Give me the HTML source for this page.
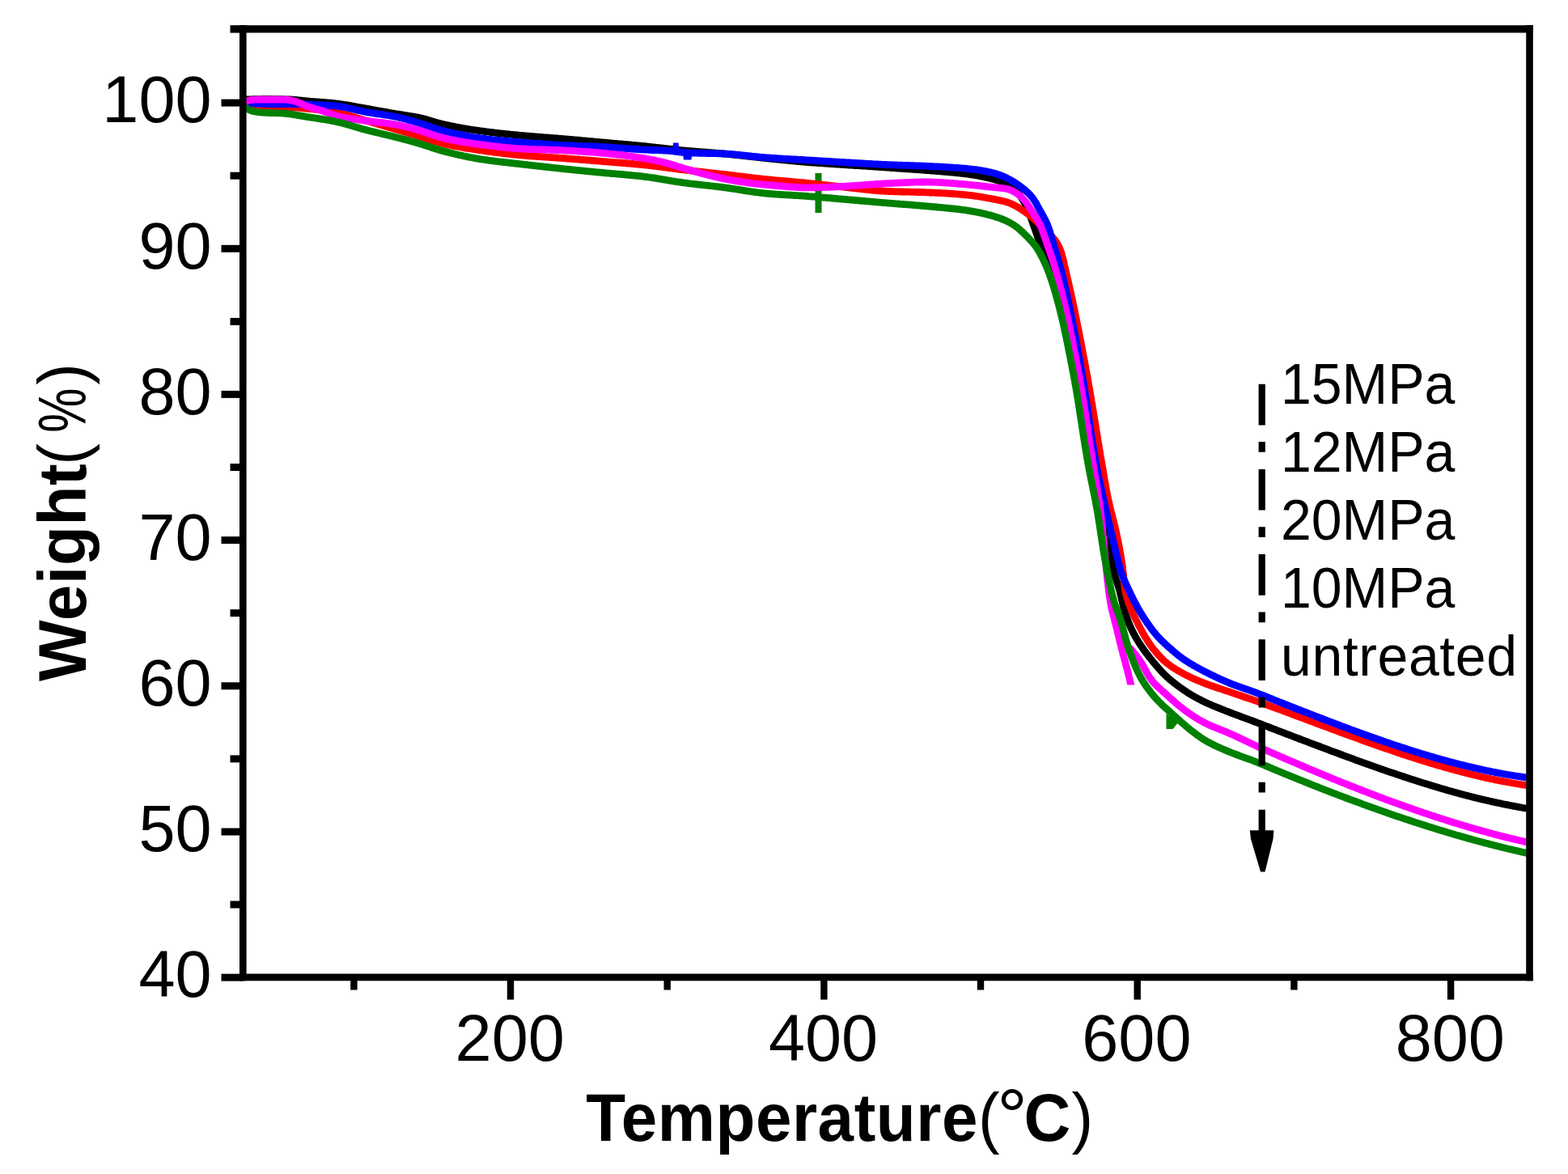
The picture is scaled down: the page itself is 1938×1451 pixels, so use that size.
<!DOCTYPE html>
<html><head><meta charset="utf-8"><title>TGA curves</title>
<style>
html,body{margin:0;padding:0;background:#fff;overflow:hidden;}
svg{display:block;}
.tk{font-family:"Liberation Sans",Arial,sans-serif;font-size:81px;fill:#000;}
.ttl{font-family:"Liberation Sans",Arial,sans-serif;font-size:80px;font-weight:bold;fill:#000;}
.ttn{font-family:"Liberation Sans",Arial,sans-serif;font-size:80px;font-weight:normal;fill:#000;}
.lg{font-family:"Liberation Sans",Arial,sans-serif;font-size:68px;fill:#000;}
</style></head>
<body>
<svg width="1938" height="1451" viewBox="0 0 1938 1451">
<rect width="1938" height="1451" fill="#fff"/>
<path d="M302.0,123.0L303.5,123.0L305.0,122.9L306.5,122.9L308.0,122.8L309.5,122.8L311.0,122.8L312.5,122.7L314.0,122.7L315.5,122.7L317.0,122.6L318.5,122.6L320.0,122.6L321.5,122.6L323.0,122.6L324.5,122.5L326.0,122.5L327.5,122.5L329.0,122.5L330.5,122.5L332.0,122.5L333.5,122.5L335.0,122.5L336.5,122.5L338.0,122.6L339.5,122.6L341.0,122.6L342.5,122.6L344.0,122.6L345.5,122.7L347.0,122.7L348.5,122.7L350.0,122.7L351.5,122.8L353.0,122.8L354.5,122.9L356.0,122.9L357.5,123.0L359.0,123.0L360.5,123.1L362.0,123.2L363.5,123.3L365.0,123.4L366.5,123.5L367.9,123.7L369.4,123.8L370.9,124.0L372.4,124.1L373.9,124.3L375.4,124.4L376.9,124.6L378.4,124.8L379.9,124.9L381.4,125.0L382.9,125.2L384.4,125.3L385.9,125.4L387.3,125.6L388.8,125.7L390.3,125.8L391.8,125.9L393.3,126.0L394.8,126.1L396.3,126.2L397.8,126.3L399.3,126.5L400.8,126.6L402.3,126.7L403.8,126.8L405.3,127.0L406.8,127.1L408.3,127.2L409.8,127.4L411.3,127.5L412.8,127.7L414.2,127.9L415.7,128.0L417.2,128.2L418.7,128.4L420.2,128.6L421.7,128.8L423.2,129.0L424.6,129.2L426.1,129.5L427.6,129.7L429.1,129.9L430.6,130.2L432.1,130.4L433.5,130.7L435.0,130.9L436.5,131.2L438.0,131.5L439.4,131.7L440.9,132.0L442.4,132.3L443.9,132.5L445.3,132.8L446.8,133.1L448.3,133.3L449.8,133.6L451.2,133.9L452.7,134.1L454.2,134.4L455.7,134.7L457.2,134.9L458.6,135.2L460.1,135.5L461.6,135.7L463.1,136.0L464.5,136.3L466.0,136.5L467.5,136.8L469.0,137.1L470.4,137.3L471.9,137.6L473.4,137.9L474.9,138.1L476.3,138.4L477.8,138.7L479.3,138.9L480.8,139.2L482.2,139.5L483.7,139.7L485.2,140.0L486.7,140.2L488.2,140.5L489.6,140.7L491.1,141.0L492.6,141.2L494.1,141.4L495.6,141.7L497.0,141.9L498.5,142.1L500.0,142.4L501.5,142.6L503.0,142.8L504.5,143.0L505.9,143.3L507.4,143.5L508.9,143.7L510.4,144.0L511.9,144.2L513.3,144.5L514.8,144.8L516.3,145.1L517.7,145.4L519.2,145.7L520.7,146.0L522.1,146.4L523.6,146.7L525.0,147.1L526.5,147.5L527.9,147.9L529.3,148.4L530.8,148.8L532.2,149.2L533.6,149.7L535.1,150.1L536.5,150.5L538.0,151.0L539.4,151.4L540.8,151.8L542.3,152.2L543.7,152.6L545.2,152.9L546.6,153.3L548.1,153.6L549.6,154.0L551.0,154.3L552.5,154.6L554.0,154.9L555.4,155.2L556.9,155.5L558.4,155.8L559.8,156.1L561.3,156.4L562.8,156.7L564.3,157.0L565.7,157.3L567.2,157.5L568.7,157.8L570.2,158.1L571.6,158.3L573.1,158.6L574.6,158.8L576.1,159.1L577.5,159.3L579.0,159.6L580.5,159.8L582.0,160.1L583.5,160.3L584.9,160.5L586.4,160.7L587.9,161.0L589.4,161.2L590.9,161.4L592.4,161.6L593.9,161.8L595.3,162.0L596.8,162.2L598.3,162.4L599.8,162.6L601.3,162.8L602.8,163.0L604.3,163.2L605.7,163.4L607.2,163.6L608.7,163.7L610.2,163.9L611.7,164.1L613.2,164.3L614.7,164.4L616.2,164.6L617.7,164.8L619.2,164.9L620.6,165.1L622.1,165.2L623.6,165.4L625.1,165.6L626.6,165.7L628.1,165.9L629.6,166.0L631.1,166.2L632.6,166.3L634.1,166.5L635.6,166.6L637.1,166.7L638.6,166.9L640.0,167.0L641.5,167.2L643.0,167.3L644.5,167.4L646.0,167.6L647.5,167.7L649.0,167.8L650.5,168.0L652.0,168.1L653.5,168.2L655.0,168.4L656.5,168.5L658.0,168.6L659.5,168.7L661.0,168.8L662.5,169.0L664.0,169.1L665.5,169.2L666.9,169.3L668.4,169.4L669.9,169.5L671.4,169.7L672.9,169.8L674.4,169.9L675.9,170.0L677.4,170.1L678.9,170.2L680.4,170.3L681.9,170.5L683.4,170.6L684.9,170.7L686.4,170.8L687.9,170.9L689.4,171.0L690.9,171.2L692.4,171.3L693.9,171.4L695.4,171.5L696.9,171.7L698.3,171.8L699.8,171.9L701.3,172.1L702.8,172.2L704.3,172.3L705.8,172.4L707.3,172.6L708.8,172.7L710.3,172.8L711.8,173.0L713.3,173.1L714.8,173.2L716.3,173.4L717.8,173.5L719.3,173.7L720.8,173.8L722.3,173.9L723.7,174.1L725.2,174.2L726.7,174.3L728.2,174.5L729.7,174.6L731.2,174.7L732.7,174.9L734.2,175.0L735.7,175.2L737.2,175.3L738.7,175.4L740.2,175.6L741.7,175.7L743.2,175.8L744.7,176.0L746.2,176.1L747.6,176.2L749.1,176.4L750.6,176.5L752.1,176.6L753.6,176.8L755.1,176.9L756.6,177.0L758.1,177.2L759.6,177.3L761.1,177.4L762.6,177.5L764.1,177.7L765.6,177.8L767.1,177.9L768.6,178.1L770.1,178.2L771.5,178.3L773.0,178.5L774.5,178.6L776.0,178.7L777.5,178.9L779.0,179.0L780.5,179.1L782.0,179.3L783.5,179.4L785.0,179.6L786.5,179.7L788.0,179.8L789.5,180.0L791.0,180.1L792.5,180.3L794.0,180.4L795.4,180.6L796.9,180.7L798.4,180.9L799.9,181.0L801.4,181.2L802.9,181.3L804.4,181.5L805.9,181.7L807.4,181.8L808.9,182.0L810.4,182.2L811.8,182.3L813.3,182.5L814.8,182.7L816.3,182.9L817.8,183.0L819.3,183.2L820.8,183.4L822.3,183.6L823.8,183.7L825.3,183.9L826.7,184.1L828.2,184.2L829.7,184.4L831.2,184.6L832.7,184.7L834.2,184.9L835.7,185.0L837.2,185.2L838.7,185.4L840.2,185.5L841.7,185.7L843.2,185.8L844.6,185.9L846.1,186.1L847.6,186.2L849.1,186.3L850.6,186.5L852.1,186.6L853.6,186.7L855.1,186.9L856.6,187.0L858.1,187.1L859.6,187.2L861.1,187.3L862.6,187.4L864.1,187.6L865.6,187.7L867.1,187.8L868.6,187.9L870.1,188.0L871.6,188.1L873.0,188.2L874.5,188.3L876.0,188.5L877.5,188.6L879.0,188.7L880.5,188.8L882.0,188.9L883.5,189.0L885.0,189.2L886.5,189.3L888.0,189.4L889.5,189.5L891.0,189.7L892.5,189.8L894.0,189.9L895.5,190.1L897.0,190.2L898.5,190.3L900.0,190.5L901.4,190.6L902.9,190.8L904.4,190.9L905.9,191.1L907.4,191.3L908.9,191.4L910.4,191.6L911.9,191.7L913.4,191.9L914.9,192.1L916.4,192.2L917.8,192.4L919.3,192.6L920.8,192.7L922.3,192.9L923.8,193.1L925.3,193.2L926.8,193.4L928.3,193.6L929.8,193.7L931.3,193.9L932.8,194.1L934.2,194.2L935.7,194.4L937.2,194.6L938.7,194.7L940.2,194.9L941.7,195.0L943.2,195.2L944.7,195.4L946.2,195.5L947.7,195.7L949.2,195.8L950.6,196.0L952.1,196.1L953.6,196.3L955.1,196.4L956.6,196.6L958.1,196.7L959.6,196.9L961.1,197.0L962.6,197.2L964.1,197.3L965.6,197.5L967.1,197.6L968.6,197.8L970.0,197.9L971.5,198.1L973.0,198.2L974.5,198.4L976.0,198.5L977.5,198.7L979.0,198.8L980.5,199.0L982.0,199.1L983.5,199.2L985.0,199.4L986.5,199.5L988.0,199.6L989.5,199.8L991.0,199.9L992.4,200.0L993.9,200.2L995.4,200.3L996.9,200.4L998.4,200.5L999.9,200.6L1001.4,200.8L1002.9,200.9L1004.4,201.0L1005.9,201.1L1007.4,201.2L1008.9,201.3L1010.4,201.4L1011.9,201.5L1013.4,201.6L1014.9,201.7L1016.4,201.8L1017.9,201.9L1019.4,202.0L1020.9,202.1L1022.4,202.2L1023.9,202.3L1025.4,202.4L1026.9,202.5L1028.4,202.6L1029.8,202.7L1031.3,202.8L1032.8,202.9L1034.3,203.0L1035.8,203.1L1037.3,203.2L1038.8,203.3L1040.3,203.4L1041.8,203.5L1043.3,203.6L1044.8,203.7L1046.3,203.8L1047.8,203.9L1049.3,204.0L1050.8,204.1L1052.3,204.2L1053.8,204.3L1055.3,204.4L1056.8,204.5L1058.3,204.6L1059.8,204.7L1061.3,204.7L1062.8,204.8L1064.3,204.9L1065.8,205.0L1067.3,205.1L1068.8,205.2L1070.3,205.3L1071.8,205.4L1073.3,205.5L1074.7,205.6L1076.2,205.7L1077.7,205.8L1079.2,205.9L1080.7,206.0L1082.2,206.1L1083.7,206.2L1085.2,206.3L1086.7,206.4L1088.2,206.5L1089.7,206.6L1091.2,206.7L1092.7,206.8L1094.2,206.9L1095.7,207.0L1097.2,207.1L1098.7,207.2L1100.2,207.4L1101.7,207.5L1103.2,207.6L1104.7,207.7L1106.2,207.8L1107.7,207.9L1109.2,208.0L1110.7,208.1L1112.2,208.2L1113.7,208.3L1115.2,208.4L1116.6,208.5L1118.1,208.6L1119.6,208.7L1121.1,208.8L1122.6,208.9L1124.1,209.0L1125.6,209.1L1127.1,209.2L1128.6,209.3L1130.1,209.4L1131.6,209.5L1133.1,209.6L1134.6,209.7L1136.1,209.8L1137.6,209.9L1139.1,210.1L1140.6,210.2L1142.1,210.3L1143.6,210.4L1145.1,210.5L1146.6,210.6L1148.1,210.7L1149.6,210.9L1151.1,211.0L1152.6,211.1L1154.0,211.2L1155.5,211.3L1157.0,211.4L1158.5,211.5L1160.0,211.7L1161.5,211.8L1163.0,211.9L1164.5,212.0L1166.0,212.1L1167.5,212.3L1169.0,212.4L1170.5,212.5L1172.0,212.6L1173.5,212.8L1175.0,212.9L1176.5,213.0L1178.0,213.2L1179.5,213.3L1180.9,213.5L1182.4,213.6L1183.9,213.8L1185.4,213.9L1186.9,214.1L1188.4,214.3L1189.9,214.4L1191.4,214.6L1192.9,214.8L1194.4,215.0L1195.8,215.2L1197.3,215.4L1198.8,215.6L1200.3,215.8L1201.8,216.0L1203.3,216.3L1204.7,216.5L1206.2,216.8L1207.7,217.0L1209.2,217.3L1210.6,217.6L1212.1,217.9L1213.6,218.1L1215.1,218.4L1216.5,218.8L1218.0,219.1L1219.5,219.4L1220.9,219.8L1222.4,220.1L1223.8,220.5L1225.3,220.8L1226.7,221.2L1228.2,221.6L1229.6,222.0L1231.1,222.4L1232.5,222.8L1233.9,223.3L1235.4,223.7L1236.8,224.2L1238.2,224.7L1239.6,225.3L1241.0,225.8L1242.3,226.4L1243.7,227.0L1245.0,227.7L1246.3,228.4L1247.6,229.1L1248.9,229.9L1250.1,230.7L1251.3,231.6L1252.5,232.5L1253.6,233.5L1254.7,234.5L1255.7,235.6L1256.7,236.7L1257.7,237.8L1258.6,238.9L1259.6,240.1L1260.4,241.3L1261.3,242.5L1262.1,243.8L1263.0,245.0L1263.7,246.3L1264.5,247.6L1265.3,248.9L1266.0,250.2L1266.7,251.5L1267.3,252.8L1268.0,254.2L1268.6,255.5L1269.3,256.9L1269.9,258.3L1270.4,259.7L1271.0,261.0L1271.6,262.4L1272.1,263.8L1272.7,265.2L1273.2,266.6L1273.7,268.0L1274.3,269.4L1274.8,270.8L1275.3,272.2L1275.8,273.7L1276.3,275.1L1276.8,276.5L1277.3,277.9L1277.8,279.3L1278.3,280.7L1278.8,282.1L1279.3,283.6L1279.8,285.0L1280.3,286.4L1280.8,287.8L1281.3,289.2L1281.8,290.6L1282.3,292.1L1282.8,293.5L1283.3,294.9L1283.9,296.3L1284.4,297.6L1285.0,299.0L1285.6,300.4L1286.2,301.8L1286.8,303.2L1287.4,304.5L1288.0,305.9L1288.6,307.3L1289.2,308.6L1289.9,310.0L1290.5,311.4L1291.1,312.7L1291.7,314.1L1292.3,315.5L1292.9,316.9L1293.5,318.2L1294.1,319.6L1294.7,321.0L1295.3,322.4L1295.8,323.8L1296.4,325.1L1297.0,326.5L1297.5,327.9L1298.1,329.3L1298.6,330.7L1299.2,332.1L1299.7,333.5L1300.2,334.9L1300.7,336.3L1301.2,337.8L1301.6,339.2L1302.1,340.6L1302.6,342.0L1303.0,343.5L1303.5,344.9L1303.9,346.3L1304.3,347.8L1304.7,349.2L1305.2,350.7L1305.6,352.1L1306.0,353.5L1306.4,355.0L1306.8,356.4L1307.2,357.9L1307.6,359.3L1308.0,360.8L1308.4,362.2L1308.8,363.7L1309.2,365.1L1309.6,366.6L1309.9,368.0L1310.3,369.5L1310.7,370.9L1311.1,372.4L1311.4,373.8L1311.8,375.3L1312.2,376.7L1312.5,378.2L1312.9,379.6L1313.2,381.1L1313.6,382.6L1313.9,384.0L1314.3,385.5L1314.6,386.9L1314.9,388.4L1315.3,389.9L1315.6,391.3L1316.0,392.8L1316.3,394.2L1316.6,395.7L1316.9,397.2L1317.3,398.6L1317.6,400.1L1317.9,401.6L1318.2,403.0L1318.6,404.5L1318.9,406.0L1319.2,407.4L1319.5,408.9L1319.8,410.4L1320.1,411.8L1320.4,413.3L1320.7,414.8L1321.0,416.2L1321.3,417.7L1321.6,419.2L1321.9,420.6L1322.2,422.1L1322.5,423.6L1322.8,425.1L1323.1,426.5L1323.4,428.0L1323.7,429.5L1324.0,430.9L1324.3,432.4L1324.5,433.9L1324.8,435.4L1325.1,436.8L1325.4,438.3L1325.7,439.8L1326.0,441.3L1326.2,442.7L1326.5,444.2L1326.8,445.7L1327.1,447.1L1327.4,448.6L1327.6,450.1L1327.9,451.6L1328.2,453.0L1328.5,454.5L1328.7,456.0L1329.0,457.5L1329.3,458.9L1329.6,460.4L1329.8,461.9L1330.1,463.4L1330.4,464.8L1330.6,466.3L1330.9,467.8L1331.1,469.3L1331.4,470.8L1331.6,472.2L1331.9,473.7L1332.1,475.2L1332.4,476.7L1332.6,478.1L1332.9,479.6L1333.1,481.1L1333.3,482.6L1333.6,484.1L1333.8,485.6L1334.0,487.0L1334.3,488.5L1334.5,490.0L1334.7,491.5L1334.9,493.0L1335.1,494.5L1335.4,495.9L1335.6,497.4L1335.8,498.9L1336.0,500.4L1336.2,501.9L1336.4,503.4L1336.7,504.8L1336.9,506.3L1337.1,507.8L1337.3,509.3L1337.5,510.8L1337.7,512.3L1337.9,513.8L1338.1,515.2L1338.4,516.7L1338.6,518.2L1338.8,519.7L1339.0,521.2L1339.2,522.7L1339.4,524.1L1339.6,525.6L1339.8,527.1L1340.0,528.6L1340.2,530.1L1340.5,531.6L1340.7,533.1L1340.9,534.5L1341.1,536.0L1341.3,537.5L1341.5,539.0L1341.8,540.5L1342.0,542.0L1342.2,543.4L1342.4,544.9L1342.7,546.4L1342.9,547.9L1343.1,549.4L1343.3,550.9L1343.6,552.3L1343.8,553.8L1344.1,555.3L1344.3,556.8L1344.5,558.3L1344.8,559.7L1345.0,561.2L1345.3,562.7L1345.5,564.2L1345.8,565.7L1346.0,567.1L1346.3,568.6L1346.6,570.1L1346.8,571.6L1347.1,573.0L1347.4,574.5L1347.6,576.0L1347.9,577.5L1348.2,578.9L1348.5,580.4L1348.8,581.9L1349.1,583.3L1349.4,584.8L1349.7,586.3L1350.0,587.7L1350.3,589.2L1350.6,590.7L1351.0,592.1L1351.3,593.6L1351.6,595.1L1351.9,596.5L1352.3,598.0L1352.6,599.5L1352.9,600.9L1353.3,602.4L1353.6,603.8L1354.0,605.3L1354.3,606.8L1354.7,608.2L1355.0,609.7L1355.4,611.1L1355.7,612.6L1356.1,614.1L1356.4,615.5L1356.8,617.0L1357.1,618.4L1357.5,619.9L1357.9,621.3L1358.2,622.8L1358.6,624.2L1358.9,625.7L1359.3,627.2L1359.7,628.6L1360.0,630.1L1360.4,631.5L1360.8,633.0L1361.2,634.4L1361.5,635.9L1361.9,637.3L1362.3,638.8L1362.7,640.2L1363.1,641.7L1363.5,643.1L1363.8,644.6L1364.2,646.0L1364.6,647.5L1365.0,648.9L1365.3,650.4L1365.7,651.8L1366.0,653.3L1366.4,654.8L1366.7,656.2L1367.0,657.7L1367.4,659.2L1367.7,660.6L1368.0,662.1L1368.3,663.6L1368.6,665.0L1368.9,666.5L1369.2,668.0L1369.5,669.4L1369.8,670.9L1370.1,672.4L1370.4,673.8L1370.7,675.3L1370.9,676.8L1371.2,678.3L1371.5,679.7L1371.8,681.2L1372.1,682.7L1372.3,684.2L1372.6,685.6L1372.9,687.1L1373.2,688.6L1373.4,690.1L1373.7,691.5L1374.0,693.0L1374.3,694.5L1374.5,696.0L1374.8,697.4L1375.1,698.9L1375.4,700.4L1375.7,701.8L1376.0,703.3L1376.4,704.8L1376.7,706.2L1377.1,707.7L1377.4,709.1L1377.8,710.6L1378.2,712.0L1378.6,713.5L1379.1,714.9L1379.5,716.3L1380.0,717.7L1380.5,719.2L1380.9,720.6L1381.4,722.0L1381.9,723.4L1382.3,724.9L1382.8,726.3L1383.2,727.7L1383.6,729.2L1384.0,730.6L1384.4,732.1L1384.7,733.5L1385.1,735.0L1385.4,736.4L1385.8,737.9L1386.1,739.4L1386.4,740.8L1386.8,742.3L1387.1,743.7L1387.4,745.2L1387.8,746.7L1388.1,748.1L1388.5,749.6L1388.9,751.0L1389.3,752.5L1389.7,753.9L1390.1,755.4L1390.5,756.8L1391.0,758.2L1391.4,759.7L1391.9,761.1L1392.4,762.5L1392.9,763.9L1393.4,765.3L1393.9,766.7L1394.4,768.1L1395.0,769.5L1395.5,770.9L1396.1,772.3L1396.7,773.7L1397.3,775.0L1397.9,776.4L1398.6,777.8L1399.2,779.1L1399.9,780.4L1400.6,781.8L1401.3,783.1L1402.0,784.4L1402.7,785.7L1403.4,787.1L1404.2,788.4L1404.9,789.7L1405.7,790.9L1406.5,792.2L1407.2,793.5L1408.0,794.8L1408.9,796.0L1409.7,797.3L1410.5,798.5L1411.4,799.8L1412.2,801.0L1413.1,802.2L1413.9,803.5L1414.8,804.7L1415.7,805.9L1416.6,807.1L1417.5,808.3L1418.4,809.4L1419.4,810.6L1420.3,811.8L1421.2,813.0L1422.2,814.2L1423.1,815.3L1424.0,816.5L1425.0,817.7L1425.9,818.8L1426.9,820.0L1427.9,821.1L1428.8,822.3L1429.8,823.4L1430.8,824.5L1431.8,825.7L1432.8,826.8L1433.8,827.9L1434.8,829.0L1435.8,830.1L1436.8,831.2L1437.9,832.3L1438.9,833.3L1440.0,834.4L1441.1,835.4L1442.2,836.5L1443.3,837.5L1444.4,838.5L1445.5,839.5L1446.6,840.4L1447.8,841.4L1449.0,842.3L1450.1,843.3L1451.3,844.2L1452.5,845.1L1453.7,846.0L1454.9,846.9L1456.1,847.8L1457.3,848.7L1458.5,849.6L1459.7,850.4L1461.0,851.3L1462.2,852.2L1463.4,853.0L1464.7,853.9L1465.9,854.7L1467.2,855.5L1468.4,856.4L1469.7,857.2L1471.0,857.9L1472.2,858.7L1473.5,859.5L1474.8,860.2L1476.1,861.0L1477.4,861.7L1478.7,862.4L1480.1,863.1L1481.4,863.8L1482.7,864.5L1484.1,865.2L1485.4,865.9L1486.7,866.5L1488.1,867.2L1489.4,867.8L1490.8,868.5L1492.2,869.1L1493.5,869.7L1494.9,870.3L1496.3,870.9L1497.6,871.5L1499.0,872.1L1500.4,872.7L1501.8,873.3L1503.2,873.9L1504.6,874.4L1506.0,875.0L1507.4,875.5L1508.7,876.1L1510.1,876.6L1511.5,877.2L1512.9,877.7L1514.3,878.3L1515.7,878.8L1517.1,879.4L1518.5,879.9L1519.9,880.5L1521.3,881.0L1522.7,881.5L1524.1,882.1L1525.5,882.6L1526.9,883.1L1528.3,883.7L1529.7,884.2L1531.1,884.7L1532.5,885.2L1534.0,885.8L1535.4,886.3L1536.8,886.8L1538.2,887.3L1539.6,887.8L1541.0,888.4L1542.4,888.9L1543.8,889.4L1545.2,889.9L1546.6,890.4L1548.0,891.0L1549.4,891.5L1550.8,892.0L1552.2,892.5L1553.6,893.1L1555.0,893.6L1556.4,894.1L1557.8,894.7L1559.2,895.2L1560.6,895.7L1562.0,896.3L1563.4,896.8L1564.8,897.4L1566.2,897.9L1567.6,898.4L1569.0,899.0L1570.4,899.5L1571.8,900.1L1573.2,900.6L1574.6,901.1L1576.0,901.7L1577.4,902.2L1578.8,902.8L1580.2,903.3L1581.6,903.8L1583.0,904.4L1584.4,904.9L1585.8,905.4L1587.2,906.0L1588.6,906.5L1590.0,907.1L1591.4,907.6L1592.8,908.1L1594.2,908.7L1595.6,909.2L1597.0,909.7L1598.4,910.3L1599.8,910.8L1601.2,911.4L1602.6,911.9L1604.0,912.4L1605.4,913.0L1606.8,913.5L1608.2,914.0L1609.7,914.6L1611.1,915.1L1612.5,915.6L1613.9,916.2L1615.3,916.7L1616.7,917.2L1618.1,917.8L1619.5,918.3L1620.9,918.8L1622.3,919.3L1623.7,919.9L1625.1,920.4L1626.5,920.9L1627.9,921.5L1629.3,922.0L1630.7,922.5L1632.1,923.0L1633.5,923.6L1634.9,924.1L1636.3,924.6L1637.7,925.1L1639.1,925.7L1640.5,926.2L1641.9,926.7L1643.3,927.3L1644.7,927.8L1646.1,928.3L1647.5,928.8L1649.0,929.4L1650.4,929.9L1651.8,930.4L1653.2,930.9L1654.6,931.5L1656.0,932.0L1657.4,932.5L1658.8,933.0L1660.2,933.6L1661.6,934.1L1663.0,934.6L1664.4,935.1L1665.8,935.7L1667.2,936.2L1668.6,936.7L1670.0,937.2L1671.4,937.7L1672.9,938.2L1674.3,938.8L1675.7,939.3L1677.1,939.8L1678.5,940.3L1679.9,940.8L1681.3,941.3L1682.7,941.8L1684.1,942.3L1685.5,942.8L1687.0,943.4L1688.4,943.9L1689.8,944.4L1691.2,944.9L1692.6,945.4L1694.0,945.9L1695.4,946.4L1696.8,946.9L1698.3,947.4L1699.7,947.9L1701.1,948.4L1702.5,948.9L1703.9,949.4L1705.3,949.9L1706.8,950.4L1708.2,950.8L1709.6,951.3L1711.0,951.8L1712.4,952.3L1713.8,952.8L1715.3,953.3L1716.7,953.8L1718.1,954.3L1719.5,954.8L1720.9,955.2L1722.4,955.7L1723.8,956.2L1725.2,956.7L1726.6,957.2L1728.0,957.6L1729.5,958.1L1730.9,958.6L1732.3,959.1L1733.7,959.5L1735.2,960.0L1736.6,960.5L1738.0,960.9L1739.4,961.4L1740.9,961.9L1742.3,962.3L1743.7,962.8L1745.1,963.3L1746.6,963.7L1748.0,964.2L1749.4,964.6L1750.8,965.1L1752.3,965.6L1753.7,966.0L1755.1,966.5L1756.6,966.9L1758.0,967.4L1759.4,967.8L1760.9,968.3L1762.3,968.7L1763.7,969.1L1765.2,969.6L1766.6,970.0L1768.0,970.5L1769.5,970.9L1770.9,971.3L1772.3,971.8L1773.8,972.2L1775.2,972.6L1776.6,973.1L1778.1,973.5L1779.5,973.9L1780.9,974.4L1782.4,974.8L1783.8,975.2L1785.3,975.6L1786.7,976.0L1788.1,976.5L1789.6,976.9L1791.0,977.3L1792.5,977.7L1793.9,978.1L1795.4,978.5L1796.8,978.9L1798.3,979.3L1799.7,979.7L1801.1,980.1L1802.6,980.5L1804.0,980.9L1805.5,981.3L1806.9,981.7L1808.4,982.1L1809.8,982.5L1811.3,982.8L1812.7,983.2L1814.2,983.6L1815.6,984.0L1817.1,984.3L1818.5,984.7L1820.0,985.1L1821.5,985.4L1822.9,985.8L1824.4,986.2L1825.8,986.5L1827.3,986.9L1828.7,987.2L1830.2,987.6L1831.7,987.9L1833.1,988.3L1834.6,988.6L1836.0,989.0L1837.5,989.3L1839.0,989.6L1840.4,990.0L1841.9,990.3L1843.3,990.6L1844.8,990.9L1846.3,991.3L1847.7,991.6L1849.2,991.9L1850.7,992.2L1852.1,992.5L1853.6,992.8L1855.1,993.1L1856.5,993.5L1858.0,993.8L1859.5,994.1L1861.0,994.3L1862.4,994.6L1863.9,994.9L1865.4,995.2L1866.8,995.5L1868.3,995.8L1869.8,996.1L1871.3,996.4L1872.7,996.6L1874.2,996.9L1875.7,997.2L1877.2,997.5L1878.6,997.7L1880.1,998.0L1881.6,998.3L1883.1,998.5L1884.5,998.8L1886.0,999.0L1887.0,999.2" fill="none" stroke="#000" stroke-width="8.8" stroke-linejoin="round" stroke-linecap="butt"/>
<rect x="1007.5" y="214" width="8" height="49" fill="#008000"/>
<path d="M302.0,129.0L303.5,129.1L305.0,129.2L306.5,129.4L308.0,129.5L309.5,129.6L311.0,129.7L312.5,129.8L314.0,129.9L315.5,130.0L317.0,130.1L318.5,130.2L319.9,130.3L321.4,130.4L322.9,130.5L324.4,130.6L325.9,130.7L327.4,130.8L328.9,130.9L330.4,131.0L331.9,131.1L333.4,131.2L334.9,131.2L336.4,131.3L337.9,131.4L339.4,131.5L340.9,131.5L342.4,131.6L343.9,131.7L345.4,131.7L346.9,131.8L348.4,131.9L349.9,132.0L351.4,132.0L352.9,132.1L354.4,132.2L355.9,132.3L357.4,132.4L358.9,132.5L360.4,132.6L361.9,132.7L363.4,132.8L364.9,132.9L366.4,133.0L367.9,133.1L369.4,133.2L370.9,133.4L372.3,133.5L373.8,133.6L375.3,133.8L376.8,133.9L378.3,134.1L379.8,134.2L381.3,134.4L382.8,134.5L384.3,134.7L385.8,134.8L387.3,135.0L388.8,135.2L390.3,135.3L391.7,135.5L393.2,135.7L394.7,135.9L396.2,136.1L397.7,136.2L399.2,136.4L400.7,136.6L402.2,136.8L403.6,137.0L405.1,137.3L406.6,137.5L408.1,137.7L409.6,137.9L411.1,138.2L412.5,138.5L414.0,138.7L415.5,139.0L416.9,139.3L418.4,139.6L419.9,139.9L421.3,140.3L422.8,140.6L424.3,141.0L425.7,141.3L427.2,141.7L428.6,142.1L430.0,142.5L431.5,142.9L432.9,143.3L434.4,143.7L435.8,144.2L437.3,144.6L438.7,145.0L440.1,145.4L441.6,145.9L443.0,146.3L444.4,146.7L445.9,147.2L447.3,147.6L448.7,148.0L450.2,148.4L451.6,148.9L453.1,149.3L454.5,149.7L455.9,150.1L457.4,150.5L458.8,151.0L460.3,151.4L461.7,151.8L463.2,152.2L464.6,152.6L466.0,153.1L467.5,153.5L468.9,153.9L470.4,154.3L471.8,154.7L473.2,155.2L474.7,155.6L476.1,156.0L477.5,156.4L479.0,156.8L480.4,157.3L481.9,157.7L483.3,158.1L484.7,158.5L486.2,159.0L487.6,159.4L489.1,159.8L490.5,160.2L491.9,160.7L493.4,161.1L494.8,161.5L496.3,161.9L497.7,162.3L499.1,162.8L500.6,163.2L502.0,163.6L503.5,164.0L504.9,164.5L506.3,164.9L507.8,165.3L509.2,165.7L510.6,166.2L512.1,166.6L513.5,167.0L514.9,167.5L516.4,167.9L517.8,168.4L519.2,168.8L520.7,169.3L522.1,169.7L523.5,170.2L525.0,170.7L526.4,171.1L527.8,171.6L529.2,172.1L530.6,172.6L532.1,173.0L533.5,173.5L534.9,174.0L536.3,174.4L537.8,174.9L539.2,175.3L540.7,175.7L542.1,176.1L543.5,176.5L545.0,176.9L546.4,177.2L547.9,177.6L549.4,177.9L550.8,178.3L552.3,178.6L553.8,178.9L555.2,179.2L556.7,179.5L558.2,179.8L559.6,180.1L561.1,180.4L562.6,180.7L564.1,181.0L565.5,181.2L567.0,181.5L568.5,181.8L570.0,182.0L571.4,182.3L572.9,182.6L574.4,182.8L575.9,183.1L577.3,183.3L578.8,183.5L580.3,183.8L581.8,184.0L583.3,184.2L584.8,184.5L586.2,184.7L587.7,184.9L589.2,185.1L590.7,185.4L592.2,185.6L593.7,185.8L595.1,186.0L596.6,186.2L598.1,186.4L599.6,186.6L601.1,186.8L602.6,187.1L604.1,187.3L605.5,187.5L607.0,187.7L608.5,187.9L610.0,188.1L611.5,188.3L613.0,188.4L614.5,188.6L616.0,188.8L617.4,189.0L618.9,189.2L620.4,189.4L621.9,189.6L623.4,189.7L624.9,189.9L626.4,190.1L627.9,190.2L629.4,190.4L630.8,190.6L632.3,190.7L633.8,190.9L635.3,191.0L636.8,191.2L638.3,191.3L639.8,191.5L641.3,191.6L642.8,191.8L644.3,191.9L645.8,192.0L647.3,192.2L648.8,192.3L650.3,192.4L651.8,192.5L653.2,192.7L654.7,192.8L656.2,192.9L657.7,193.0L659.2,193.1L660.7,193.2L662.2,193.3L663.7,193.4L665.2,193.5L666.7,193.6L668.2,193.7L669.7,193.8L671.2,193.9L672.7,194.0L674.2,194.1L675.7,194.2L677.2,194.3L678.7,194.4L680.2,194.5L681.7,194.6L683.2,194.7L684.7,194.8L686.2,194.9L687.7,195.0L689.2,195.1L690.7,195.2L692.2,195.3L693.7,195.4L695.1,195.5L696.6,195.6L698.1,195.7L699.6,195.9L701.1,196.0L702.6,196.1L704.1,196.2L705.6,196.3L707.1,196.4L708.6,196.5L710.1,196.7L711.6,196.8L713.1,196.9L714.6,197.0L716.1,197.1L717.6,197.3L719.1,197.4L720.6,197.5L722.1,197.6L723.6,197.7L725.1,197.9L726.6,198.0L728.0,198.1L729.5,198.2L731.0,198.4L732.5,198.5L734.0,198.6L735.5,198.7L737.0,198.8L738.5,199.0L740.0,199.1L741.5,199.2L743.0,199.3L744.5,199.5L746.0,199.6L747.5,199.7L749.0,199.8L750.5,199.9L752.0,200.1L753.5,200.2L755.0,200.3L756.5,200.4L757.9,200.5L759.4,200.7L760.9,200.8L762.4,200.9L763.9,201.0L765.4,201.1L766.9,201.2L768.4,201.4L769.9,201.5L771.4,201.6L772.9,201.7L774.4,201.9L775.9,202.0L777.4,202.1L778.9,202.2L780.4,202.4L781.9,202.5L783.4,202.6L784.9,202.8L786.4,202.9L787.8,203.0L789.3,203.2L790.8,203.3L792.3,203.5L793.8,203.6L795.3,203.8L796.8,203.9L798.3,204.1L799.8,204.2L801.3,204.4L802.8,204.6L804.3,204.7L805.7,204.9L807.2,205.1L808.7,205.3L810.2,205.4L811.7,205.6L813.2,205.8L814.7,206.0L816.2,206.2L817.7,206.4L819.1,206.6L820.6,206.8L822.1,207.0L823.6,207.2L825.1,207.4L826.6,207.6L828.1,207.8L829.6,207.9L831.0,208.1L832.5,208.3L834.0,208.5L835.5,208.7L837.0,208.9L838.5,209.1L840.0,209.3L841.5,209.5L842.9,209.6L844.4,209.8L845.9,210.0L847.4,210.2L848.9,210.3L850.4,210.5L851.9,210.7L853.4,210.9L854.9,211.0L856.4,211.2L857.8,211.4L859.3,211.5L860.8,211.7L862.3,211.9L863.8,212.0L865.3,212.2L866.8,212.4L868.3,212.5L869.8,212.7L871.3,212.9L872.8,213.0L874.2,213.2L875.7,213.3L877.2,213.5L878.7,213.7L880.2,213.8L881.7,214.0L883.2,214.2L884.7,214.3L886.2,214.5L887.7,214.7L889.2,214.8L890.6,215.0L892.1,215.2L893.6,215.4L895.1,215.5L896.6,215.7L898.1,215.9L899.6,216.0L901.1,216.2L902.6,216.4L904.0,216.6L905.5,216.8L907.0,216.9L908.5,217.1L910.0,217.3L911.5,217.5L913.0,217.7L914.5,217.8L916.0,218.0L917.4,218.2L918.9,218.4L920.4,218.6L921.9,218.8L923.4,218.9L924.9,219.1L926.4,219.3L927.9,219.5L929.4,219.7L930.9,219.8L932.3,220.0L933.8,220.2L935.3,220.3L936.8,220.5L938.3,220.7L939.8,220.9L941.3,221.0L942.8,221.2L944.3,221.3L945.8,221.5L947.3,221.6L948.7,221.8L950.2,221.9L951.7,222.1L953.2,222.2L954.7,222.4L956.2,222.5L957.7,222.7L959.2,222.8L960.7,222.9L962.2,223.1L963.7,223.2L965.2,223.3L966.7,223.5L968.2,223.6L969.7,223.7L971.1,223.9L972.6,224.0L974.1,224.1L975.6,224.3L977.1,224.4L978.6,224.5L980.1,224.7L981.6,224.8L983.1,224.9L984.6,225.1L986.1,225.2L987.6,225.3L989.1,225.5L990.6,225.6L992.1,225.7L993.6,225.9L995.0,226.0L996.5,226.2L998.0,226.3L999.5,226.5L1001.0,226.6L1002.5,226.8L1004.0,226.9L1005.5,227.1L1007.0,227.2L1008.5,227.4L1010.0,227.6L1011.5,227.7L1013.0,227.9L1014.4,228.1L1015.9,228.2L1017.4,228.4L1018.9,228.6L1020.4,228.7L1021.9,228.9L1023.4,229.1L1024.9,229.2L1026.4,229.4L1027.9,229.6L1029.3,229.7L1030.8,229.9L1032.3,230.1L1033.8,230.2L1035.3,230.4L1036.8,230.6L1038.3,230.7L1039.8,230.9L1041.3,231.1L1042.8,231.2L1044.3,231.4L1045.7,231.5L1047.2,231.7L1048.7,231.9L1050.2,232.0L1051.7,232.2L1053.2,232.4L1054.7,232.5L1056.2,232.7L1057.7,232.9L1059.2,233.0L1060.7,233.2L1062.1,233.4L1063.6,233.5L1065.1,233.7L1066.6,233.9L1068.1,234.0L1069.6,234.2L1071.1,234.4L1072.6,234.5L1074.1,234.7L1075.6,234.8L1077.1,235.0L1078.6,235.1L1080.0,235.3L1081.5,235.4L1083.0,235.5L1084.5,235.7L1086.0,235.8L1087.5,235.9L1089.0,236.0L1090.5,236.1L1092.0,236.2L1093.5,236.3L1095.0,236.4L1096.5,236.4L1098.0,236.5L1099.5,236.6L1101.0,236.6L1102.5,236.7L1104.0,236.7L1105.5,236.8L1107.0,236.8L1108.5,236.8L1110.0,236.9L1111.5,236.9L1113.0,237.0L1114.5,237.0L1116.0,237.0L1117.5,237.1L1119.0,237.1L1120.5,237.1L1122.0,237.2L1123.5,237.2L1125.0,237.2L1126.5,237.3L1128.0,237.3L1129.5,237.3L1131.0,237.4L1132.5,237.4L1134.0,237.5L1135.5,237.5L1137.0,237.5L1138.5,237.6L1140.0,237.6L1141.5,237.7L1143.0,237.7L1144.5,237.8L1146.0,237.9L1147.5,237.9L1149.0,238.0L1150.5,238.0L1152.0,238.1L1153.5,238.2L1155.0,238.2L1156.5,238.3L1158.0,238.4L1159.5,238.5L1161.0,238.5L1162.5,238.6L1164.0,238.7L1165.5,238.8L1167.0,238.9L1168.4,238.9L1169.9,239.0L1171.4,239.1L1172.9,239.2L1174.4,239.3L1175.9,239.4L1177.4,239.5L1178.9,239.6L1180.4,239.7L1181.9,239.8L1183.4,240.0L1184.9,240.1L1186.4,240.2L1187.9,240.3L1189.4,240.4L1190.9,240.6L1192.4,240.7L1193.9,240.9L1195.4,241.0L1196.9,241.2L1198.3,241.3L1199.8,241.5L1201.3,241.7L1202.8,241.9L1204.3,242.1L1205.8,242.3L1207.3,242.5L1208.7,242.7L1210.2,243.0L1211.7,243.2L1213.2,243.4L1214.7,243.7L1216.1,244.0L1217.6,244.2L1219.1,244.5L1220.6,244.8L1222.1,245.0L1223.5,245.3L1225.0,245.6L1226.5,245.8L1227.9,246.1L1229.4,246.4L1230.9,246.7L1232.4,247.0L1233.8,247.3L1235.3,247.6L1236.8,247.9L1238.2,248.2L1239.7,248.5L1241.1,248.9L1242.6,249.3L1244.0,249.7L1245.4,250.2L1246.8,250.7L1248.2,251.2L1249.6,251.8L1251.0,252.4L1252.3,253.0L1253.7,253.7L1255.0,254.4L1256.3,255.1L1257.6,255.8L1258.9,256.6L1260.2,257.4L1261.4,258.2L1262.7,259.0L1263.9,259.8L1265.2,260.7L1266.4,261.5L1267.6,262.4L1268.8,263.3L1270.0,264.2L1271.2,265.1L1272.4,266.0L1273.5,267.0L1274.7,267.9L1275.8,268.9L1277.0,269.9L1278.1,270.9L1279.2,271.9L1280.3,272.9L1281.4,273.9L1282.5,274.9L1283.6,275.9L1284.7,277.0L1285.8,278.0L1286.9,279.0L1288.0,280.1L1289.1,281.1L1290.1,282.2L1291.2,283.2L1292.3,284.2L1293.4,285.3L1294.4,286.3L1295.5,287.4L1296.5,288.5L1297.6,289.6L1298.6,290.6L1299.6,291.7L1300.6,292.9L1301.6,294.0L1302.6,295.1L1303.5,296.3L1304.4,297.5L1305.2,298.7L1306.1,300.0L1306.8,301.2L1307.6,302.5L1308.3,303.8L1308.9,305.2L1309.5,306.5L1310.1,307.9L1310.6,309.3L1311.1,310.7L1311.6,312.1L1312.0,313.6L1312.5,315.0L1312.9,316.4L1313.3,317.9L1313.6,319.3L1314.0,320.8L1314.4,322.2L1314.7,323.7L1315.1,325.2L1315.4,326.6L1315.7,328.1L1316.1,329.5L1316.4,331.0L1316.7,332.5L1317.0,333.9L1317.4,335.4L1317.7,336.9L1318.0,338.3L1318.4,339.8L1318.7,341.2L1319.0,342.7L1319.4,344.2L1319.7,345.6L1320.1,347.1L1320.4,348.6L1320.7,350.0L1321.1,351.5L1321.4,352.9L1321.7,354.4L1322.1,355.9L1322.4,357.3L1322.7,358.8L1323.0,360.3L1323.4,361.7L1323.7,363.2L1324.0,364.6L1324.3,366.1L1324.7,367.6L1325.0,369.0L1325.3,370.5L1325.6,372.0L1325.9,373.4L1326.2,374.9L1326.6,376.4L1326.9,377.8L1327.2,379.3L1327.5,380.8L1327.8,382.2L1328.1,383.7L1328.4,385.2L1328.7,386.7L1329.0,388.1L1329.3,389.6L1329.6,391.1L1329.9,392.5L1330.2,394.0L1330.5,395.5L1330.8,396.9L1331.1,398.4L1331.4,399.9L1331.7,401.3L1332.0,402.8L1332.3,404.3L1332.6,405.8L1332.9,407.2L1333.2,408.7L1333.5,410.2L1333.8,411.6L1334.0,413.1L1334.3,414.6L1334.6,416.1L1334.9,417.5L1335.2,419.0L1335.5,420.5L1335.8,422.0L1336.0,423.4L1336.3,424.9L1336.6,426.4L1336.9,427.8L1337.2,429.3L1337.4,430.8L1337.7,432.3L1338.0,433.7L1338.3,435.2L1338.6,436.7L1338.8,438.2L1339.1,439.6L1339.4,441.1L1339.7,442.6L1339.9,444.1L1340.2,445.5L1340.5,447.0L1340.8,448.5L1341.0,450.0L1341.3,451.4L1341.6,452.9L1341.9,454.4L1342.1,455.9L1342.4,457.3L1342.7,458.8L1342.9,460.3L1343.2,461.8L1343.5,463.2L1343.8,464.7L1344.0,466.2L1344.3,467.7L1344.5,469.1L1344.8,470.6L1345.1,472.1L1345.3,473.6L1345.6,475.0L1345.8,476.5L1346.1,478.0L1346.4,479.5L1346.6,481.0L1346.9,482.4L1347.1,483.9L1347.4,485.4L1347.6,486.9L1347.9,488.4L1348.1,489.8L1348.4,491.3L1348.6,492.8L1348.9,494.3L1349.1,495.8L1349.4,497.2L1349.6,498.7L1349.9,500.2L1350.1,501.7L1350.3,503.1L1350.6,504.6L1350.8,506.1L1351.1,507.6L1351.3,509.1L1351.6,510.6L1351.8,512.0L1352.0,513.5L1352.3,515.0L1352.5,516.5L1352.8,518.0L1353.0,519.4L1353.2,520.9L1353.5,522.4L1353.7,523.9L1354.0,525.4L1354.2,526.8L1354.4,528.3L1354.7,529.8L1354.9,531.3L1355.2,532.8L1355.4,534.2L1355.6,535.7L1355.9,537.2L1356.1,538.7L1356.4,540.2L1356.6,541.6L1356.8,543.1L1357.1,544.6L1357.3,546.1L1357.6,547.6L1357.8,549.0L1358.1,550.5L1358.3,552.0L1358.6,553.5L1358.8,555.0L1359.0,556.4L1359.3,557.9L1359.5,559.4L1359.8,560.9L1360.0,562.4L1360.3,563.8L1360.5,565.3L1360.8,566.8L1361.0,568.3L1361.3,569.8L1361.6,571.2L1361.8,572.7L1362.1,574.2L1362.3,575.7L1362.6,577.1L1362.8,578.6L1363.1,580.1L1363.3,581.6L1363.6,583.1L1363.8,584.5L1364.1,586.0L1364.3,587.5L1364.6,589.0L1364.8,590.5L1365.1,591.9L1365.3,593.4L1365.6,594.9L1365.9,596.4L1366.1,597.8L1366.4,599.3L1366.6,600.8L1366.9,602.3L1367.2,603.7L1367.4,605.2L1367.7,606.7L1368.0,608.2L1368.3,609.6L1368.5,611.1L1368.8,612.6L1369.1,614.1L1369.4,615.5L1369.7,617.0L1370.0,618.5L1370.4,619.9L1370.7,621.4L1371.0,622.9L1371.3,624.3L1371.7,625.8L1372.1,627.2L1372.4,628.7L1372.8,630.1L1373.1,631.6L1373.5,633.1L1373.9,634.5L1374.3,636.0L1374.7,637.4L1375.0,638.9L1375.4,640.3L1375.8,641.8L1376.1,643.2L1376.5,644.7L1376.9,646.1L1377.2,647.6L1377.6,649.0L1377.9,650.5L1378.3,652.0L1378.6,653.4L1378.9,654.9L1379.3,656.4L1379.6,657.8L1379.9,659.3L1380.2,660.8L1380.5,662.2L1380.8,663.7L1381.1,665.2L1381.5,666.6L1381.8,668.1L1382.1,669.6L1382.3,671.0L1382.6,672.5L1382.9,674.0L1383.2,675.5L1383.5,676.9L1383.8,678.4L1384.0,679.9L1384.3,681.4L1384.5,682.8L1384.8,684.3L1385.1,685.8L1385.3,687.3L1385.6,688.7L1385.8,690.2L1386.0,691.7L1386.3,693.2L1386.5,694.7L1386.7,696.1L1386.9,697.6L1387.2,699.1L1387.4,700.6L1387.6,702.1L1387.7,703.6L1387.9,705.1L1388.1,706.6L1388.3,708.0L1388.4,709.5L1388.6,711.0L1388.7,712.5L1388.9,714.0L1389.0,715.5L1389.1,717.0L1389.3,718.5L1389.4,720.0L1389.6,721.5L1389.7,723.0L1389.9,724.5L1390.1,725.9L1390.3,727.4L1390.6,728.9L1390.8,730.4L1391.1,731.8L1391.4,733.3L1391.8,734.8L1392.1,736.2L1392.5,737.7L1392.9,739.1L1393.4,740.5L1393.9,741.9L1394.3,743.4L1394.8,744.8L1395.3,746.2L1395.9,747.6L1396.4,749.0L1397.0,750.4L1397.5,751.8L1398.1,753.2L1398.7,754.5L1399.3,755.9L1399.9,757.3L1400.5,758.7L1401.1,760.0L1401.8,761.4L1402.4,762.7L1403.1,764.1L1403.7,765.4L1404.4,766.8L1405.1,768.1L1405.7,769.4L1406.4,770.8L1407.1,772.1L1407.8,773.4L1408.5,774.8L1409.2,776.1L1409.9,777.4L1410.6,778.7L1411.3,780.1L1412.0,781.4L1412.8,782.7L1413.5,784.0L1414.3,785.3L1415.0,786.6L1415.8,787.9L1416.6,789.1L1417.4,790.4L1418.2,791.7L1419.0,792.9L1419.8,794.2L1420.7,795.4L1421.5,796.7L1422.4,797.9L1423.2,799.1L1424.1,800.3L1425.0,801.5L1426.0,802.7L1426.9,803.8L1427.9,805.0L1428.8,806.1L1429.8,807.3L1430.8,808.4L1431.8,809.5L1432.8,810.6L1433.9,811.7L1434.9,812.8L1436.0,813.8L1437.0,814.9L1438.1,815.9L1439.2,816.9L1440.3,817.9L1441.5,818.9L1442.6,819.8L1443.8,820.8L1445.0,821.7L1446.2,822.6L1447.4,823.4L1448.6,824.3L1449.9,825.1L1451.2,825.9L1452.4,826.7L1453.7,827.5L1455.0,828.2L1456.3,829.0L1457.6,829.8L1458.9,830.5L1460.2,831.2L1461.5,832.0L1462.8,832.7L1464.1,833.4L1465.5,834.1L1466.8,834.8L1468.1,835.5L1469.5,836.1L1470.8,836.8L1472.2,837.4L1473.5,838.1L1474.9,838.7L1476.3,839.3L1477.6,839.9L1479.0,840.5L1480.4,841.1L1481.8,841.7L1483.2,842.2L1484.6,842.8L1485.9,843.4L1487.3,843.9L1488.7,844.5L1490.1,845.0L1491.5,845.5L1492.9,846.0L1494.4,846.5L1495.8,847.1L1497.2,847.6L1498.6,848.0L1500.0,848.5L1501.4,849.0L1502.9,849.5L1504.3,850.0L1505.7,850.5L1507.1,850.9L1508.5,851.4L1510.0,851.9L1511.4,852.3L1512.8,852.8L1514.2,853.3L1515.7,853.8L1517.1,854.2L1518.5,854.7L1519.9,855.2L1521.4,855.7L1522.8,856.2L1524.2,856.6L1525.6,857.1L1527.0,857.6L1528.5,858.1L1529.9,858.6L1531.3,859.1L1532.7,859.5L1534.1,860.0L1535.6,860.5L1537.0,861.0L1538.4,861.5L1539.8,862.0L1541.2,862.5L1542.6,862.9L1544.1,863.4L1545.5,863.9L1546.9,864.4L1548.3,864.9L1549.7,865.4L1551.1,865.9L1552.6,866.4L1554.0,866.9L1555.4,867.4L1556.8,867.9L1558.2,868.4L1559.6,868.9L1561.0,869.4L1562.4,870.0L1563.9,870.5L1565.3,871.0L1566.7,871.5L1568.1,872.0L1569.5,872.5L1570.9,873.0L1572.3,873.6L1573.7,874.1L1575.1,874.6L1576.5,875.1L1577.9,875.6L1579.3,876.2L1580.7,876.7L1582.2,877.2L1583.6,877.7L1585.0,878.2L1586.4,878.8L1587.8,879.3L1589.2,879.8L1590.6,880.3L1592.0,880.9L1593.4,881.4L1594.8,881.9L1596.2,882.4L1597.6,883.0L1599.0,883.5L1600.4,884.0L1601.8,884.5L1603.2,885.1L1604.6,885.6L1606.0,886.1L1607.4,886.6L1608.9,887.2L1610.3,887.7L1611.7,888.2L1613.1,888.7L1614.5,889.3L1615.9,889.8L1617.3,890.3L1618.7,890.8L1620.1,891.4L1621.5,891.9L1622.9,892.4L1624.3,892.9L1625.7,893.5L1627.1,894.0L1628.5,894.5L1629.9,895.0L1631.3,895.6L1632.7,896.1L1634.1,896.6L1635.5,897.1L1637.0,897.7L1638.4,898.2L1639.8,898.7L1641.2,899.2L1642.6,899.8L1644.0,900.3L1645.4,900.8L1646.8,901.3L1648.2,901.8L1649.6,902.4L1651.0,902.9L1652.4,903.4L1653.8,903.9L1655.2,904.5L1656.6,905.0L1658.0,905.5L1659.5,906.0L1660.9,906.5L1662.3,907.1L1663.7,907.6L1665.1,908.1L1666.5,908.6L1667.9,909.1L1669.3,909.6L1670.7,910.2L1672.1,910.7L1673.5,911.2L1674.9,911.7L1676.4,912.2L1677.8,912.7L1679.2,913.2L1680.6,913.7L1682.0,914.3L1683.4,914.8L1684.8,915.3L1686.2,915.8L1687.6,916.3L1689.0,916.8L1690.5,917.3L1691.9,917.8L1693.3,918.3L1694.7,918.8L1696.1,919.3L1697.5,919.8L1698.9,920.3L1700.4,920.8L1701.8,921.3L1703.2,921.8L1704.6,922.3L1706.0,922.8L1707.4,923.3L1708.9,923.8L1710.3,924.3L1711.7,924.8L1713.1,925.3L1714.5,925.7L1715.9,926.2L1717.4,926.7L1718.8,927.2L1720.2,927.7L1721.6,928.2L1723.0,928.7L1724.5,929.1L1725.9,929.6L1727.3,930.1L1728.7,930.6L1730.1,931.0L1731.6,931.5L1733.0,932.0L1734.4,932.5L1735.8,932.9L1737.3,933.4L1738.7,933.9L1740.1,934.3L1741.5,934.8L1743.0,935.3L1744.4,935.7L1745.8,936.2L1747.2,936.7L1748.7,937.1L1750.1,937.6L1751.5,938.0L1753.0,938.5L1754.4,938.9L1755.8,939.4L1757.3,939.8L1758.7,940.3L1760.1,940.7L1761.6,941.2L1763.0,941.6L1764.4,942.0L1765.9,942.5L1767.3,942.9L1768.7,943.3L1770.2,943.8L1771.6,944.2L1773.0,944.6L1774.5,945.0L1775.9,945.5L1777.4,945.9L1778.8,946.3L1780.2,946.7L1781.7,947.1L1783.1,947.5L1784.6,948.0L1786.0,948.4L1787.5,948.8L1788.9,949.2L1790.3,949.6L1791.8,950.0L1793.2,950.4L1794.7,950.8L1796.1,951.2L1797.6,951.6L1799.0,952.0L1800.5,952.4L1801.9,952.7L1803.4,953.1L1804.8,953.5L1806.3,953.9L1807.7,954.3L1809.2,954.7L1810.6,955.0L1812.1,955.4L1813.5,955.8L1815.0,956.1L1816.4,956.5L1817.9,956.9L1819.4,957.2L1820.8,957.6L1822.3,957.9L1823.7,958.3L1825.2,958.6L1826.6,959.0L1828.1,959.3L1829.6,959.7L1831.0,960.0L1832.5,960.4L1833.9,960.7L1835.4,961.0L1836.9,961.4L1838.3,961.7L1839.8,962.0L1841.3,962.3L1842.7,962.7L1844.2,963.0L1845.7,963.3L1847.1,963.6L1848.6,963.9L1850.1,964.2L1851.5,964.5L1853.0,964.8L1854.5,965.1L1856.0,965.3L1857.4,965.6L1858.9,965.9L1860.4,966.2L1861.9,966.4L1863.3,966.7L1864.8,967.0L1866.3,967.2L1867.8,967.5L1869.2,967.8L1870.7,968.0L1872.2,968.3L1873.7,968.5L1875.2,968.8L1876.6,969.0L1878.1,969.3L1879.6,969.5L1881.1,969.8L1882.6,970.0L1884.0,970.2L1885.5,970.5L1887.0,970.7" fill="none" stroke="#f00" stroke-width="8.8" stroke-linejoin="round" stroke-linecap="butt"/>
<path d="M302.0,127.0L303.5,127.1L305.0,127.2L306.5,127.3L308.0,127.4L309.5,127.6L311.0,127.7L312.5,127.8L314.0,127.9L315.5,127.9L317.0,128.0L318.5,128.1L320.0,128.2L321.5,128.2L323.0,128.3L324.5,128.3L325.9,128.4L327.4,128.4L328.9,128.4L330.4,128.5L331.9,128.5L333.4,128.5L334.9,128.5L336.4,128.5L337.9,128.5L339.4,128.5L340.9,128.5L342.4,128.5L343.9,128.5L345.4,128.5L346.9,128.5L348.4,128.5L349.9,128.5L351.4,128.5L352.9,128.5L354.4,128.5L355.9,128.5L357.4,128.5L358.9,128.5L360.4,128.5L361.9,128.5L363.4,128.6L364.9,128.6L366.4,128.6L367.9,128.6L369.4,128.7L370.9,128.7L372.4,128.8L373.9,128.8L375.4,128.9L376.9,128.9L378.4,129.0L379.9,129.0L381.4,129.1L382.9,129.1L384.4,129.2L385.9,129.3L387.4,129.3L388.9,129.4L390.4,129.5L391.9,129.6L393.4,129.6L394.9,129.7L396.4,129.8L397.9,129.9L399.4,130.0L400.9,130.0L402.4,130.1L403.9,130.2L405.4,130.3L406.9,130.4L408.4,130.5L409.9,130.6L411.4,130.7L412.9,130.8L414.4,131.0L415.8,131.1L417.3,131.3L418.8,131.5L420.3,131.7L421.8,131.9L423.3,132.2L424.7,132.4L426.2,132.7L427.7,133.0L429.1,133.3L430.6,133.6L432.1,134.0L433.5,134.3L435.0,134.6L436.5,135.0L437.9,135.3L439.4,135.7L440.8,136.0L442.3,136.4L443.8,136.7L445.2,137.0L446.7,137.3L448.1,137.6L449.6,137.9L451.1,138.2L452.6,138.5L454.0,138.8L455.5,139.0L457.0,139.3L458.5,139.5L460.0,139.7L461.4,139.9L462.9,140.2L464.4,140.4L465.9,140.6L467.4,140.8L468.9,141.0L470.3,141.2L471.8,141.4L473.3,141.6L474.8,141.9L476.3,142.1L477.8,142.3L479.2,142.5L480.7,142.8L482.2,143.0L483.7,143.3L485.2,143.6L486.6,143.8L488.1,144.1L489.6,144.4L491.0,144.7L492.5,145.0L494.0,145.4L495.4,145.7L496.9,146.1L498.3,146.4L499.8,146.8L501.2,147.2L502.7,147.6L504.1,148.0L505.6,148.4L507.0,148.8L508.5,149.2L509.9,149.6L511.3,150.0L512.8,150.5L514.2,150.9L515.7,151.3L517.1,151.8L518.5,152.2L519.9,152.7L521.4,153.1L522.8,153.6L524.2,154.0L525.6,154.5L527.1,155.0L528.5,155.5L529.9,156.0L531.3,156.5L532.7,157.0L534.1,157.5L535.6,158.0L537.0,158.4L538.4,158.9L539.8,159.4L541.3,159.8L542.7,160.2L544.1,160.6L545.6,161.0L547.0,161.4L548.5,161.8L549.9,162.2L551.4,162.6L552.8,162.9L554.3,163.3L555.8,163.6L557.2,164.0L558.7,164.3L560.1,164.6L561.6,165.0L563.1,165.3L564.5,165.6L566.0,165.9L567.5,166.2L568.9,166.5L570.4,166.8L571.9,167.1L573.4,167.4L574.8,167.7L576.3,168.0L577.8,168.2L579.3,168.5L580.7,168.8L582.2,169.0L583.7,169.3L585.2,169.5L586.6,169.7L588.1,170.0L589.6,170.2L591.1,170.4L592.6,170.6L594.1,170.8L595.5,171.0L597.0,171.2L598.5,171.4L600.0,171.6L601.5,171.8L603.0,172.0L604.5,172.2L606.0,172.3L607.5,172.5L608.9,172.7L610.4,172.8L611.9,173.0L613.4,173.1L614.9,173.3L616.4,173.4L617.9,173.6L619.4,173.7L620.9,173.9L622.4,174.0L623.9,174.2L625.4,174.3L626.9,174.4L628.3,174.6L629.8,174.7L631.3,174.8L632.8,175.0L634.3,175.1L635.8,175.2L637.3,175.4L638.8,175.5L640.3,175.6L641.8,175.7L643.3,175.9L644.8,176.0L646.3,176.1L647.8,176.2L649.3,176.3L650.8,176.5L652.3,176.6L653.8,176.7L655.2,176.8L656.7,176.9L658.2,177.1L659.7,177.2L661.2,177.3L662.7,177.4L664.2,177.5L665.7,177.6L667.2,177.7L668.7,177.8L670.2,177.9L671.7,178.1L673.2,178.2L674.7,178.3L676.2,178.4L677.7,178.5L679.2,178.6L680.7,178.7L682.2,178.8L683.7,178.8L685.2,178.9L686.7,179.0L688.2,179.1L689.7,179.2L691.2,179.3L692.7,179.4L694.2,179.4L695.6,179.5L697.1,179.6L698.6,179.7L700.1,179.7L701.6,179.8L703.1,179.9L704.6,179.9L706.1,180.0L707.6,180.0L709.1,180.1L710.6,180.2L712.1,180.2L713.6,180.3L715.1,180.3L716.6,180.4L718.1,180.4L719.6,180.5L721.1,180.5L722.6,180.6L724.1,180.6L725.6,180.7L727.1,180.8L728.6,180.8L730.1,180.9L731.6,180.9L733.1,181.0L734.6,181.0L736.1,181.1L737.6,181.2L739.1,181.2L740.6,181.3L742.1,181.4L743.6,181.5L745.1,181.5L746.6,181.6L748.1,181.7L749.6,181.8L751.1,181.9L752.6,182.0L754.1,182.1L755.6,182.2L757.1,182.3L758.6,182.4L760.1,182.5L761.6,182.6L763.1,182.7L764.5,182.8L766.0,182.9L767.5,183.1L769.0,183.2L770.5,183.3L772.0,183.4L773.5,183.5L775.0,183.6L776.5,183.7L778.0,183.9L779.5,184.0L781.0,184.1L782.5,184.2L784.0,184.3L785.5,184.4L787.0,184.5L788.5,184.6L790.0,184.7L791.5,184.8L793.0,184.9L794.5,184.9L796.0,185.0L797.5,185.1L799.0,185.2L800.5,185.2L802.0,185.3L803.5,185.3L805.0,185.4L806.5,185.5L808.0,185.5L809.4,185.6L810.9,185.6L812.4,185.7L813.9,185.7L815.4,185.8L816.9,185.8L818.4,185.9L819.9,186.0L821.4,186.1L822.9,186.1L824.4,186.2L825.9,186.3L827.4,186.5L828.9,186.6L830.4,186.7L831.9,186.9L833.4,187.1L834.9,187.3L836.3,187.5L837.8,187.7L839.3,187.9L840.8,188.0L842.3,188.2L843.8,188.4L845.3,188.5L846.8,188.6L848.3,188.7L849.7,188.8L851.2,188.9L852.7,189.0L854.2,189.0L855.7,189.1L857.2,189.1L858.7,189.2L860.2,189.2L861.7,189.2L863.2,189.3L864.7,189.3L866.2,189.3L867.7,189.4L869.2,189.4L870.7,189.4L872.2,189.4L873.7,189.5L875.2,189.5L876.7,189.5L878.2,189.6L879.7,189.6L881.2,189.6L882.7,189.7L884.2,189.7L885.7,189.7L887.2,189.8L888.7,189.8L890.2,189.9L891.7,189.9L893.2,190.0L894.7,190.0L896.2,190.1L897.7,190.2L899.2,190.3L900.7,190.4L902.2,190.5L903.7,190.6L905.2,190.7L906.7,190.8L908.2,190.9L909.7,191.1L911.2,191.2L912.7,191.4L914.2,191.5L915.6,191.7L917.1,191.8L918.6,192.0L920.1,192.1L921.6,192.3L923.1,192.5L924.6,192.6L926.1,192.8L927.6,192.9L929.1,193.1L930.6,193.3L932.0,193.4L933.5,193.6L935.0,193.7L936.5,193.9L938.0,194.0L939.5,194.2L941.0,194.3L942.5,194.4L944.0,194.6L945.5,194.7L947.0,194.8L948.5,194.9L950.0,195.0L951.5,195.1L953.0,195.2L954.5,195.3L956.0,195.4L957.5,195.5L958.9,195.6L960.4,195.7L961.9,195.8L963.4,195.9L964.9,196.0L966.4,196.1L967.9,196.2L969.4,196.3L970.9,196.3L972.4,196.4L973.9,196.5L975.4,196.6L976.9,196.7L978.4,196.8L979.9,196.9L981.4,196.9L982.9,197.0L984.4,197.1L985.9,197.2L987.4,197.3L988.9,197.4L990.4,197.4L991.9,197.5L993.4,197.6L994.9,197.7L996.4,197.8L997.9,197.9L999.4,198.0L1000.9,198.1L1002.4,198.2L1003.9,198.2L1005.4,198.3L1006.9,198.4L1008.4,198.5L1009.8,198.6L1011.3,198.7L1012.8,198.8L1014.3,198.9L1015.8,199.0L1017.3,199.1L1018.8,199.2L1020.3,199.2L1021.8,199.3L1023.3,199.4L1024.8,199.5L1026.3,199.6L1027.8,199.7L1029.3,199.8L1030.8,199.9L1032.3,200.0L1033.8,200.1L1035.3,200.1L1036.8,200.2L1038.3,200.3L1039.8,200.4L1041.3,200.5L1042.8,200.6L1044.3,200.7L1045.8,200.8L1047.3,200.9L1048.8,200.9L1050.3,201.0L1051.8,201.1L1053.3,201.2L1054.8,201.3L1056.3,201.4L1057.8,201.5L1059.3,201.6L1060.7,201.6L1062.2,201.7L1063.7,201.8L1065.2,201.9L1066.7,202.0L1068.2,202.1L1069.7,202.2L1071.2,202.3L1072.7,202.3L1074.2,202.4L1075.7,202.5L1077.2,202.6L1078.7,202.7L1080.2,202.8L1081.7,202.8L1083.2,202.9L1084.7,203.0L1086.2,203.1L1087.7,203.1L1089.2,203.2L1090.7,203.3L1092.2,203.4L1093.7,203.4L1095.2,203.5L1096.7,203.6L1098.2,203.6L1099.7,203.7L1101.2,203.7L1102.7,203.8L1104.2,203.9L1105.7,203.9L1107.2,204.0L1108.7,204.0L1110.2,204.1L1111.7,204.1L1113.2,204.2L1114.7,204.2L1116.2,204.3L1117.7,204.3L1119.2,204.4L1120.7,204.4L1122.2,204.5L1123.7,204.5L1125.2,204.6L1126.7,204.6L1128.2,204.7L1129.7,204.7L1131.2,204.8L1132.7,204.8L1134.2,204.9L1135.7,204.9L1137.2,205.0L1138.7,205.0L1140.2,205.1L1141.7,205.2L1143.1,205.2L1144.6,205.3L1146.1,205.4L1147.6,205.4L1149.1,205.5L1150.6,205.6L1152.1,205.6L1153.6,205.7L1155.1,205.8L1156.6,205.9L1158.1,205.9L1159.6,206.0L1161.1,206.1L1162.6,206.2L1164.1,206.2L1165.6,206.3L1167.1,206.4L1168.6,206.5L1170.1,206.6L1171.6,206.7L1173.1,206.8L1174.6,206.9L1176.1,207.0L1177.6,207.1L1179.1,207.2L1180.6,207.3L1182.1,207.4L1183.6,207.5L1185.1,207.6L1186.6,207.7L1188.1,207.8L1189.6,208.0L1191.1,208.1L1192.5,208.2L1194.0,208.4L1195.5,208.5L1197.0,208.7L1198.5,208.8L1200.0,209.0L1201.5,209.2L1203.0,209.3L1204.5,209.5L1206.0,209.7L1207.4,209.9L1208.9,210.1L1210.4,210.4L1211.9,210.6L1213.4,210.8L1214.8,211.1L1216.3,211.4L1217.8,211.6L1219.3,211.9L1220.7,212.2L1222.2,212.5L1223.7,212.8L1225.1,213.2L1226.6,213.5L1228.0,213.9L1229.5,214.3L1230.9,214.7L1232.3,215.1L1233.8,215.6L1235.2,216.1L1236.6,216.6L1238.0,217.2L1239.3,217.8L1240.7,218.4L1242.1,219.0L1243.4,219.6L1244.8,220.3L1246.1,221.0L1247.4,221.7L1248.7,222.4L1250.0,223.1L1251.3,223.9L1252.6,224.6L1253.9,225.4L1255.1,226.2L1256.4,227.1L1257.6,227.9L1258.9,228.8L1260.1,229.6L1261.3,230.5L1262.5,231.4L1263.7,232.3L1264.9,233.3L1266.0,234.2L1267.2,235.2L1268.3,236.2L1269.4,237.2L1270.5,238.2L1271.5,239.2L1272.6,240.3L1273.6,241.4L1274.5,242.5L1275.5,243.7L1276.4,244.9L1277.3,246.1L1278.1,247.3L1278.9,248.6L1279.7,249.8L1280.5,251.1L1281.2,252.4L1281.9,253.7L1282.6,255.1L1283.3,256.4L1284.1,257.7L1284.8,259.0L1285.5,260.3L1286.2,261.6L1287.0,262.9L1287.7,264.2L1288.4,265.5L1289.2,266.9L1289.9,268.2L1290.6,269.5L1291.3,270.8L1292.0,272.1L1292.7,273.5L1293.3,274.8L1293.9,276.2L1294.5,277.6L1295.0,279.0L1295.6,280.4L1296.1,281.8L1296.5,283.2L1297.0,284.6L1297.5,286.0L1297.9,287.5L1298.3,288.9L1298.7,290.3L1299.2,291.8L1299.6,293.2L1300.0,294.7L1300.4,296.1L1300.9,297.5L1301.3,299.0L1301.7,300.4L1302.1,301.9L1302.6,303.3L1303.0,304.7L1303.4,306.2L1303.9,307.6L1304.3,309.0L1304.7,310.5L1305.2,311.9L1305.6,313.3L1306.0,314.8L1306.4,316.2L1306.9,317.7L1307.3,319.1L1307.7,320.5L1308.1,322.0L1308.5,323.4L1308.9,324.9L1309.4,326.3L1309.8,327.7L1310.2,329.2L1310.5,330.6L1310.9,332.1L1311.3,333.5L1311.7,335.0L1312.1,336.4L1312.4,337.9L1312.8,339.3L1313.2,340.8L1313.5,342.3L1313.9,343.7L1314.2,345.2L1314.6,346.6L1314.9,348.1L1315.3,349.6L1315.6,351.0L1315.9,352.5L1316.3,353.9L1316.6,355.4L1316.9,356.9L1317.3,358.3L1317.6,359.8L1317.9,361.3L1318.3,362.7L1318.6,364.2L1318.9,365.6L1319.2,367.1L1319.5,368.6L1319.9,370.0L1320.2,371.5L1320.5,373.0L1320.8,374.4L1321.1,375.9L1321.4,377.4L1321.7,378.8L1322.0,380.3L1322.3,381.8L1322.6,383.2L1322.9,384.7L1323.2,386.2L1323.5,387.7L1323.8,389.1L1324.1,390.6L1324.4,392.1L1324.7,393.5L1325.0,395.0L1325.3,396.5L1325.6,398.0L1325.9,399.4L1326.2,400.9L1326.5,402.4L1326.7,403.8L1327.0,405.3L1327.3,406.8L1327.6,408.3L1327.9,409.7L1328.2,411.2L1328.4,412.7L1328.7,414.2L1329.0,415.6L1329.3,417.1L1329.5,418.6L1329.8,420.0L1330.1,421.5L1330.4,423.0L1330.6,424.5L1330.9,425.9L1331.2,427.4L1331.4,428.9L1331.7,430.4L1332.0,431.8L1332.2,433.3L1332.5,434.8L1332.8,436.3L1333.0,437.8L1333.3,439.2L1333.6,440.7L1333.8,442.2L1334.1,443.7L1334.4,445.1L1334.6,446.6L1334.9,448.1L1335.2,449.6L1335.4,451.0L1335.7,452.5L1335.9,454.0L1336.2,455.5L1336.5,456.9L1336.7,458.4L1337.0,459.9L1337.2,461.4L1337.5,462.9L1337.7,464.3L1338.0,465.8L1338.2,467.3L1338.5,468.8L1338.7,470.3L1339.0,471.7L1339.2,473.2L1339.5,474.7L1339.7,476.2L1339.9,477.7L1340.2,479.1L1340.4,480.6L1340.6,482.1L1340.9,483.6L1341.1,485.1L1341.3,486.5L1341.5,488.0L1341.8,489.5L1342.0,491.0L1342.2,492.5L1342.4,494.0L1342.7,495.4L1342.9,496.9L1343.1,498.4L1343.3,499.9L1343.5,501.4L1343.8,502.9L1344.0,504.3L1344.2,505.8L1344.4,507.3L1344.6,508.8L1344.8,510.3L1345.0,511.8L1345.3,513.2L1345.5,514.7L1345.7,516.2L1345.9,517.7L1346.1,519.2L1346.3,520.7L1346.6,522.2L1346.8,523.6L1347.0,525.1L1347.2,526.6L1347.4,528.1L1347.6,529.6L1347.9,531.1L1348.1,532.5L1348.3,534.0L1348.5,535.5L1348.8,537.0L1349.0,538.5L1349.2,540.0L1349.4,541.4L1349.7,542.9L1349.9,544.4L1350.1,545.9L1350.3,547.4L1350.6,548.8L1350.8,550.3L1351.1,551.8L1351.3,553.3L1351.5,554.8L1351.8,556.2L1352.0,557.7L1352.3,559.2L1352.5,560.7L1352.8,562.2L1353.0,563.6L1353.3,565.1L1353.5,566.6L1353.8,568.1L1354.0,569.6L1354.3,571.0L1354.6,572.5L1354.8,574.0L1355.1,575.5L1355.4,576.9L1355.7,578.4L1355.9,579.9L1356.2,581.3L1356.5,582.8L1356.8,584.3L1357.1,585.8L1357.4,587.2L1357.7,588.7L1358.0,590.2L1358.3,591.6L1358.6,593.1L1358.9,594.6L1359.2,596.0L1359.5,597.5L1359.9,599.0L1360.2,600.4L1360.5,601.9L1360.8,603.4L1361.1,604.8L1361.5,606.3L1361.8,607.8L1362.1,609.2L1362.4,610.7L1362.8,612.2L1363.1,613.6L1363.4,615.1L1363.7,616.5L1364.1,618.0L1364.4,619.5L1364.7,620.9L1365.1,622.4L1365.4,623.9L1365.7,625.3L1366.1,626.8L1366.4,628.2L1366.7,629.7L1367.1,631.2L1367.4,632.6L1367.8,634.1L1368.1,635.5L1368.5,637.0L1368.8,638.5L1369.2,639.9L1369.5,641.4L1369.8,642.8L1370.2,644.3L1370.5,645.8L1370.9,647.2L1371.2,648.7L1371.6,650.1L1371.9,651.6L1372.3,653.1L1372.6,654.5L1372.9,656.0L1373.3,657.4L1373.6,658.9L1373.9,660.4L1374.3,661.8L1374.6,663.3L1375.0,664.7L1375.3,666.2L1375.6,667.7L1376.0,669.1L1376.3,670.6L1376.7,672.0L1377.0,673.5L1377.4,675.0L1377.7,676.4L1378.1,677.9L1378.4,679.3L1378.8,680.8L1379.1,682.2L1379.5,683.7L1379.9,685.2L1380.2,686.6L1380.6,688.1L1380.9,689.5L1381.3,691.0L1381.7,692.4L1382.0,693.9L1382.4,695.3L1382.8,696.8L1383.2,698.2L1383.6,699.7L1384.0,701.1L1384.4,702.6L1384.8,704.0L1385.3,705.4L1385.7,706.9L1386.2,708.3L1386.7,709.7L1387.2,711.1L1387.7,712.5L1388.3,713.9L1388.8,715.3L1389.4,716.7L1390.0,718.1L1390.6,719.4L1391.2,720.8L1391.8,722.2L1392.5,723.5L1393.1,724.9L1393.7,726.2L1394.4,727.6L1395.0,729.0L1395.7,730.3L1396.3,731.7L1396.9,733.0L1397.6,734.4L1398.2,735.7L1398.9,737.1L1399.6,738.4L1400.2,739.8L1400.9,741.1L1401.6,742.4L1402.3,743.8L1403.0,745.1L1403.7,746.4L1404.4,747.7L1405.1,749.1L1405.8,750.4L1406.5,751.7L1407.3,753.0L1408.0,754.3L1408.8,755.6L1409.6,756.9L1410.4,758.1L1411.1,759.4L1411.9,760.7L1412.7,762.0L1413.5,763.2L1414.4,764.5L1415.2,765.7L1416.0,767.0L1416.9,768.2L1417.7,769.5L1418.5,770.7L1419.4,771.9L1420.3,773.1L1421.1,774.4L1422.0,775.6L1422.9,776.8L1423.8,778.0L1424.7,779.2L1425.6,780.4L1426.6,781.5L1427.5,782.7L1428.5,783.8L1429.5,785.0L1430.4,786.1L1431.4,787.2L1432.5,788.3L1433.5,789.4L1434.5,790.5L1435.6,791.5L1436.7,792.6L1437.8,793.6L1438.8,794.6L1439.9,795.7L1441.1,796.7L1442.2,797.7L1443.3,798.7L1444.4,799.7L1445.5,800.7L1446.6,801.7L1447.8,802.7L1448.9,803.7L1450.0,804.7L1451.1,805.6L1452.3,806.6L1453.4,807.6L1454.6,808.5L1455.7,809.5L1456.9,810.4L1458.1,811.3L1459.3,812.2L1460.5,813.1L1461.7,814.0L1462.9,814.8L1464.2,815.7L1465.4,816.5L1466.7,817.3L1468.0,818.1L1469.2,818.9L1470.5,819.7L1471.8,820.5L1473.1,821.2L1474.4,822.0L1475.7,822.8L1477.0,823.5L1478.3,824.2L1479.6,825.0L1480.9,825.7L1482.2,826.4L1483.5,827.1L1484.9,827.8L1486.2,828.5L1487.5,829.2L1488.9,829.9L1490.2,830.6L1491.5,831.2L1492.9,831.9L1494.2,832.6L1495.6,833.3L1496.9,833.9L1498.2,834.6L1499.6,835.2L1500.9,835.9L1502.3,836.5L1503.6,837.2L1505.0,837.8L1506.4,838.5L1507.7,839.1L1509.1,839.7L1510.5,840.3L1511.8,840.9L1513.2,841.5L1514.6,842.1L1515.9,842.7L1517.3,843.3L1518.7,843.9L1520.1,844.5L1521.5,845.0L1522.9,845.6L1524.3,846.1L1525.7,846.6L1527.1,847.2L1528.5,847.7L1529.9,848.2L1531.3,848.7L1532.7,849.2L1534.1,849.7L1535.6,850.2L1537.0,850.7L1538.4,851.2L1539.8,851.7L1541.2,852.2L1542.6,852.7L1544.1,853.2L1545.5,853.7L1546.9,854.2L1548.3,854.7L1549.7,855.2L1551.1,855.7L1552.5,856.2L1553.9,856.7L1555.3,857.3L1556.7,857.8L1558.1,858.3L1559.5,858.9L1560.9,859.4L1562.3,860.0L1563.7,860.5L1565.1,861.1L1566.5,861.7L1567.9,862.2L1569.3,862.8L1570.7,863.3L1572.1,863.9L1573.5,864.5L1574.8,865.0L1576.2,865.6L1577.6,866.1L1579.0,866.7L1580.4,867.3L1581.8,867.8L1583.2,868.4L1584.6,868.9L1586.0,869.5L1587.4,870.0L1588.8,870.6L1590.2,871.1L1591.6,871.7L1593.0,872.2L1594.4,872.8L1595.8,873.3L1597.1,873.9L1598.5,874.4L1599.9,875.0L1601.3,875.5L1602.7,876.1L1604.1,876.6L1605.5,877.1L1606.9,877.7L1608.3,878.2L1609.7,878.8L1611.1,879.3L1612.5,879.9L1613.9,880.4L1615.3,881.0L1616.7,881.5L1618.1,882.1L1619.5,882.6L1620.9,883.1L1622.3,883.7L1623.7,884.2L1625.1,884.8L1626.5,885.3L1627.9,885.8L1629.3,886.4L1630.7,886.9L1632.1,887.5L1633.5,888.0L1634.9,888.5L1636.3,889.1L1637.7,889.6L1639.1,890.1L1640.5,890.7L1641.9,891.2L1643.3,891.8L1644.7,892.3L1646.1,892.8L1647.5,893.3L1648.9,893.9L1650.3,894.4L1651.7,894.9L1653.1,895.5L1654.5,896.0L1655.9,896.5L1657.3,897.1L1658.7,897.6L1660.1,898.1L1661.5,898.6L1662.9,899.2L1664.3,899.7L1665.7,900.2L1667.1,900.7L1668.6,901.3L1670.0,901.8L1671.4,902.3L1672.8,902.8L1674.2,903.3L1675.6,903.9L1677.0,904.4L1678.4,904.9L1679.8,905.4L1681.2,905.9L1682.6,906.4L1684.0,907.0L1685.4,907.5L1686.9,908.0L1688.3,908.5L1689.7,909.0L1691.1,909.5L1692.5,910.0L1693.9,910.5L1695.3,911.0L1696.7,911.5L1698.1,912.0L1699.6,912.5L1701.0,913.0L1702.4,913.5L1703.8,914.0L1705.2,914.5L1706.6,915.0L1708.1,915.5L1709.5,916.0L1710.9,916.5L1712.3,917.0L1713.7,917.4L1715.2,917.9L1716.6,918.4L1718.0,918.9L1719.4,919.4L1720.8,919.8L1722.3,920.3L1723.7,920.8L1725.1,921.3L1726.5,921.7L1727.9,922.2L1729.4,922.7L1730.8,923.2L1732.2,923.6L1733.6,924.1L1735.1,924.5L1736.5,925.0L1737.9,925.5L1739.4,925.9L1740.8,926.4L1742.2,926.8L1743.6,927.3L1745.1,927.8L1746.5,928.2L1747.9,928.7L1749.4,929.1L1750.8,929.6L1752.2,930.0L1753.7,930.4L1755.1,930.9L1756.5,931.3L1758.0,931.8L1759.4,932.2L1760.8,932.6L1762.3,933.1L1763.7,933.5L1765.1,933.9L1766.6,934.4L1768.0,934.8L1769.5,935.2L1770.9,935.6L1772.3,936.0L1773.8,936.5L1775.2,936.9L1776.7,937.3L1778.1,937.7L1779.5,938.1L1781.0,938.5L1782.4,938.9L1783.9,939.3L1785.3,939.7L1786.8,940.1L1788.2,940.5L1789.7,940.9L1791.1,941.3L1792.6,941.7L1794.0,942.0L1795.5,942.4L1796.9,942.8L1798.4,943.2L1799.8,943.5L1801.3,943.9L1802.7,944.3L1804.2,944.7L1805.6,945.0L1807.1,945.4L1808.5,945.7L1810.0,946.1L1811.5,946.5L1812.9,946.8L1814.4,947.2L1815.8,947.5L1817.3,947.8L1818.8,948.2L1820.2,948.5L1821.7,948.9L1823.1,949.2L1824.6,949.5L1826.1,949.9L1827.5,950.2L1829.0,950.5L1830.4,950.9L1831.9,951.2L1833.4,951.5L1834.8,951.8L1836.3,952.2L1837.8,952.5L1839.2,952.8L1840.7,953.1L1842.2,953.4L1843.6,953.7L1845.1,954.0L1846.6,954.3L1848.1,954.6L1849.5,954.9L1851.0,955.2L1852.5,955.4L1853.9,955.7L1855.4,956.0L1856.9,956.3L1858.4,956.5L1859.8,956.8L1861.3,957.0L1862.8,957.3L1864.3,957.5L1865.8,957.8L1867.2,958.0L1868.7,958.3L1870.2,958.5L1871.7,958.8L1873.2,959.0L1874.6,959.2L1876.1,959.5L1877.6,959.7L1879.1,959.9L1880.6,960.2L1882.1,960.4L1883.5,960.6L1885.0,960.8L1886.5,961.0L1887.0,961.1" fill="none" stroke="#00f" stroke-width="8.8" stroke-linejoin="round" stroke-linecap="butt"/>
<path d="M843.5,186 L845,197.5 L854.5,197.5 L856,186 Z" fill="#00f"/>
<path d="M831,186 L832,176.5 L838.5,176.5 L839.5,186 Z" fill="#00f"/>
<clipPath id="cm"><rect x="0" y="0" width="1938" height="846.4"/></clipPath>
<path d="M301.0,126.1L302.4,125.6L303.8,125.1L305.2,124.7L306.7,124.3L308.1,124.0L309.6,123.7L311.0,123.5L312.5,123.3L314.0,123.2L315.5,123.1L317.0,123.1L318.5,123.0L319.9,123.0L321.4,123.0L322.9,123.0L324.4,123.0L325.9,123.0L327.4,123.0L328.9,123.0L330.4,123.0L331.9,123.0L333.4,123.0L334.9,123.0L336.4,123.0L337.9,123.0L339.4,123.0L340.9,123.0L342.4,123.0L343.9,123.0L345.4,123.0L346.9,123.0L348.4,123.0L349.9,123.1L351.4,123.1L352.9,123.2L354.4,123.3L355.9,123.5L357.4,123.6L358.8,123.9L360.3,124.1L361.8,124.5L363.2,124.8L364.6,125.2L366.0,125.7L367.4,126.2L368.8,126.7L370.2,127.3L371.6,127.9L372.9,128.5L374.3,129.1L375.7,129.7L377.0,130.3L378.4,130.9L379.8,131.4L381.2,132.0L382.6,132.4L384.0,132.9L385.4,133.3L386.9,133.7L388.3,134.1L389.8,134.5L391.2,134.9L392.7,135.3L394.1,135.7L395.5,136.1L397.0,136.6L398.4,137.0L399.8,137.5L401.2,138.0L402.6,138.6L404.0,139.1L405.4,139.6L406.8,140.2L408.2,140.7L409.6,141.2L411.0,141.7L412.5,142.2L413.9,142.6L415.3,143.0L416.8,143.4L418.2,143.8L419.7,144.2L421.1,144.5L422.6,144.8L424.1,145.1L425.5,145.4L427.0,145.6L428.5,145.9L430.0,146.1L431.4,146.4L432.9,146.6L434.4,146.8L435.9,147.1L437.4,147.3L438.9,147.5L440.3,147.7L441.8,147.9L443.3,148.1L444.8,148.3L446.3,148.5L447.8,148.7L449.3,148.9L450.7,149.1L452.2,149.3L453.7,149.5L455.2,149.7L456.7,149.9L458.2,150.1L459.7,150.2L461.2,150.4L462.7,150.6L464.1,150.7L465.6,150.9L467.1,151.1L468.6,151.2L470.1,151.4L471.6,151.6L473.1,151.7L474.6,151.9L476.1,152.1L477.6,152.3L479.0,152.5L480.5,152.7L482.0,152.9L483.5,153.1L485.0,153.3L486.5,153.5L487.9,153.8L489.4,154.0L490.9,154.3L492.4,154.6L493.8,154.9L495.3,155.2L496.8,155.5L498.2,155.8L499.7,156.2L501.2,156.5L502.6,156.9L504.1,157.2L505.5,157.6L507.0,158.0L508.4,158.4L509.9,158.8L511.3,159.2L512.8,159.6L514.2,160.0L515.6,160.4L517.1,160.8L518.5,161.2L519.9,161.7L521.4,162.1L522.8,162.6L524.2,163.1L525.7,163.5L527.1,164.0L528.5,164.5L529.9,165.0L531.3,165.5L532.7,166.0L534.1,166.5L535.6,167.0L537.0,167.5L538.4,167.9L539.8,168.4L541.3,168.8L542.7,169.2L544.2,169.6L545.6,170.0L547.1,170.4L548.5,170.7L550.0,171.1L551.4,171.4L552.9,171.7L554.4,172.1L555.8,172.4L557.3,172.7L558.8,173.0L560.2,173.3L561.7,173.5L563.2,173.8L564.7,174.1L566.1,174.4L567.6,174.6L569.1,174.9L570.6,175.1L572.0,175.4L573.5,175.6L575.0,175.9L576.5,176.1L578.0,176.3L579.5,176.6L580.9,176.8L582.4,177.0L583.9,177.2L585.4,177.5L586.9,177.7L588.4,177.9L589.8,178.1L591.3,178.3L592.8,178.5L594.3,178.7L595.8,178.9L597.3,179.1L598.8,179.3L600.2,179.5L601.7,179.7L603.2,179.9L604.7,180.0L606.2,180.2L607.7,180.4L609.2,180.6L610.7,180.8L612.2,181.0L613.6,181.1L615.1,181.3L616.6,181.5L618.1,181.6L619.6,181.8L621.1,182.0L622.6,182.1L624.1,182.3L625.6,182.4L627.1,182.6L628.6,182.7L630.1,182.9L631.5,183.0L633.0,183.1L634.5,183.2L636.0,183.4L637.5,183.5L639.0,183.6L640.5,183.7L642.0,183.8L643.5,183.9L645.0,184.0L646.5,184.0L648.0,184.1L649.5,184.2L651.0,184.3L652.5,184.3L654.0,184.4L655.5,184.5L657.0,184.5L658.5,184.6L660.0,184.6L661.5,184.7L663.0,184.7L664.5,184.8L666.0,184.8L667.5,184.9L669.0,184.9L670.5,185.0L672.0,185.0L673.5,185.0L675.0,185.1L676.5,185.1L678.0,185.2L679.5,185.2L681.0,185.3L682.5,185.3L684.0,185.4L685.5,185.4L687.0,185.5L688.5,185.5L690.0,185.6L691.5,185.7L693.0,185.7L694.5,185.8L696.0,185.9L697.5,185.9L699.0,186.0L700.5,186.1L702.0,186.2L703.5,186.2L705.0,186.3L706.5,186.4L708.0,186.5L709.4,186.6L710.9,186.7L712.4,186.8L713.9,186.9L715.4,187.0L716.9,187.1L718.4,187.2L719.9,187.3L721.4,187.4L722.9,187.5L724.4,187.6L725.9,187.7L727.4,187.8L728.9,187.9L730.4,188.0L731.9,188.1L733.4,188.2L734.9,188.4L736.4,188.5L737.9,188.6L739.4,188.7L740.9,188.9L742.4,189.0L743.9,189.1L745.3,189.3L746.8,189.4L748.3,189.5L749.8,189.7L751.3,189.8L752.8,190.0L754.3,190.1L755.8,190.3L757.3,190.4L758.8,190.6L760.3,190.8L761.8,190.9L763.2,191.1L764.7,191.3L766.2,191.5L767.7,191.6L769.2,191.8L770.7,192.0L772.2,192.2L773.7,192.4L775.2,192.6L776.6,192.8L778.1,193.0L779.6,193.2L781.1,193.4L782.6,193.6L784.1,193.9L785.6,194.1L787.0,194.3L788.5,194.5L790.0,194.7L791.5,195.0L793.0,195.2L794.4,195.4L795.9,195.7L797.4,195.9L798.9,196.2L800.4,196.5L801.8,196.7L803.3,197.0L804.8,197.3L806.3,197.6L807.7,197.8L809.2,198.1L810.7,198.5L812.1,198.8L813.6,199.1L815.1,199.4L816.5,199.8L818.0,200.1L819.4,200.5L820.9,200.8L822.3,201.2L823.8,201.6L825.2,202.0L826.7,202.4L828.1,202.8L829.6,203.2L831.0,203.7L832.4,204.1L833.9,204.5L835.3,205.0L836.7,205.4L838.2,205.9L839.6,206.3L841.0,206.8L842.5,207.2L843.9,207.6L845.3,208.1L846.8,208.5L848.2,208.9L849.6,209.3L851.1,209.7L852.5,210.2L854.0,210.6L855.4,211.0L856.9,211.4L858.3,211.8L859.7,212.2L861.2,212.6L862.6,213.0L864.1,213.4L865.5,213.8L867.0,214.2L868.4,214.6L869.9,214.9L871.3,215.3L872.8,215.7L874.2,216.1L875.7,216.5L877.1,216.8L878.6,217.2L880.1,217.5L881.5,217.9L883.0,218.3L884.4,218.6L885.9,219.0L887.3,219.3L888.8,219.6L890.3,219.9L891.7,220.3L893.2,220.6L894.7,220.9L896.1,221.2L897.6,221.5L899.1,221.8L900.6,222.0L902.0,222.3L903.5,222.6L905.0,222.9L906.5,223.1L907.9,223.4L909.4,223.6L910.9,223.9L912.4,224.1L913.9,224.4L915.3,224.6L916.8,224.8L918.3,225.0L919.8,225.2L921.3,225.5L922.8,225.7L924.2,225.9L925.7,226.1L927.2,226.2L928.7,226.4L930.2,226.6L931.7,226.8L933.2,226.9L934.7,227.1L936.2,227.3L937.7,227.4L939.1,227.6L940.6,227.7L942.1,227.9L943.6,228.0L945.1,228.2L946.6,228.3L948.1,228.5L949.6,228.6L951.1,228.7L952.6,228.9L954.1,229.0L955.6,229.1L957.1,229.3L958.6,229.4L960.1,229.5L961.5,229.6L963.0,229.8L964.5,229.9L966.0,230.0L967.5,230.1L969.0,230.3L970.5,230.4L972.0,230.5L973.5,230.7L975.0,230.8L976.5,230.9L978.0,231.0L979.5,231.1L981.0,231.2L982.5,231.3L984.0,231.4L985.5,231.5L987.0,231.6L988.5,231.7L990.0,231.7L991.5,231.8L993.0,231.8L994.5,231.9L996.0,231.9L997.5,231.9L999.0,231.9L1000.5,231.9L1002.0,231.9L1003.5,231.9L1005.0,231.9L1006.5,231.9L1008.0,231.8L1009.5,231.8L1011.0,231.8L1012.5,231.7L1014.0,231.7L1015.4,231.6L1016.9,231.6L1018.4,231.5L1019.9,231.4L1021.4,231.4L1022.9,231.3L1024.4,231.2L1025.9,231.2L1027.4,231.1L1028.9,231.0L1030.4,231.0L1031.9,230.9L1033.4,230.8L1034.9,230.7L1036.4,230.7L1037.9,230.6L1039.4,230.5L1040.9,230.4L1042.4,230.4L1043.9,230.3L1045.4,230.2L1046.9,230.1L1048.4,230.0L1049.9,229.9L1051.4,229.8L1052.9,229.7L1054.4,229.6L1055.9,229.5L1057.4,229.4L1058.9,229.3L1060.4,229.2L1061.9,229.1L1063.4,229.0L1064.9,228.9L1066.4,228.8L1067.9,228.6L1069.4,228.5L1070.8,228.4L1072.3,228.3L1073.8,228.2L1075.3,228.1L1076.8,228.0L1078.3,227.9L1079.8,227.8L1081.3,227.6L1082.8,227.5L1084.3,227.4L1085.8,227.3L1087.3,227.3L1088.8,227.2L1090.3,227.1L1091.8,227.0L1093.3,226.9L1094.8,226.8L1096.3,226.7L1097.8,226.7L1099.3,226.6L1100.8,226.5L1102.3,226.4L1103.8,226.4L1105.3,226.3L1106.8,226.2L1108.3,226.1L1109.8,226.1L1111.3,226.0L1112.8,225.9L1114.3,225.8L1115.8,225.8L1117.3,225.7L1118.8,225.6L1120.3,225.6L1121.8,225.5L1123.3,225.4L1124.8,225.4L1126.3,225.3L1127.8,225.3L1129.3,225.2L1130.8,225.2L1132.3,225.1L1133.8,225.1L1135.3,225.1L1136.8,225.0L1138.3,225.0L1139.8,225.0L1141.3,225.0L1142.7,225.0L1144.2,225.0L1145.7,225.0L1147.2,225.0L1148.7,225.0L1150.2,225.0L1151.7,225.1L1153.2,225.1L1154.7,225.1L1156.2,225.2L1157.7,225.3L1159.2,225.3L1160.7,225.4L1162.2,225.5L1163.7,225.6L1165.2,225.7L1166.7,225.8L1168.2,225.9L1169.7,226.0L1171.2,226.1L1172.7,226.2L1174.2,226.3L1175.7,226.4L1177.2,226.5L1178.7,226.6L1180.2,226.8L1181.7,226.9L1183.2,227.0L1184.7,227.1L1186.2,227.3L1187.7,227.4L1189.2,227.5L1190.7,227.6L1192.1,227.8L1193.6,227.9L1195.1,228.0L1196.6,228.2L1198.1,228.3L1199.6,228.5L1201.1,228.6L1202.6,228.8L1204.1,228.9L1205.6,229.1L1207.1,229.2L1208.6,229.4L1210.1,229.6L1211.5,229.7L1213.0,229.9L1214.5,230.1L1216.0,230.2L1217.5,230.4L1219.0,230.6L1220.5,230.8L1222.0,230.9L1223.5,231.1L1225.0,231.2L1226.4,231.4L1227.9,231.5L1229.4,231.7L1230.9,231.8L1232.4,232.0L1233.9,232.1L1235.4,232.2L1236.9,232.4L1238.4,232.5L1239.9,232.7L1241.3,232.9L1242.8,233.2L1244.3,233.5L1245.7,233.8L1247.1,234.2L1248.5,234.7L1249.9,235.2L1251.2,235.8L1252.6,236.5L1253.8,237.2L1255.1,238.0L1256.4,238.8L1257.6,239.6L1258.8,240.5L1259.9,241.5L1261.0,242.4L1262.2,243.4L1263.2,244.5L1264.3,245.5L1265.3,246.6L1266.3,247.7L1267.2,248.9L1268.1,250.1L1269.0,251.3L1269.9,252.5L1270.7,253.7L1271.5,255.0L1272.4,256.2L1273.2,257.5L1274.0,258.7L1274.8,260.0L1275.6,261.3L1276.4,262.5L1277.3,263.8L1278.1,265.0L1278.9,266.3L1279.7,267.5L1280.5,268.8L1281.3,270.1L1282.0,271.4L1282.8,272.7L1283.5,274.0L1284.2,275.3L1284.9,276.7L1285.5,278.0L1286.1,279.4L1286.7,280.7L1287.3,282.1L1287.9,283.5L1288.4,284.9L1288.9,286.3L1289.4,287.7L1289.9,289.1L1290.4,290.5L1290.9,292.0L1291.4,293.4L1291.9,294.8L1292.4,296.2L1292.9,297.6L1293.4,299.0L1293.9,300.5L1294.4,301.9L1294.9,303.3L1295.4,304.7L1295.8,306.1L1296.3,307.6L1296.8,309.0L1297.3,310.4L1297.8,311.8L1298.3,313.2L1298.7,314.7L1299.2,316.1L1299.7,317.5L1300.2,318.9L1300.6,320.3L1301.1,321.8L1301.6,323.2L1302.0,324.6L1302.5,326.1L1302.9,327.5L1303.4,328.9L1303.8,330.4L1304.2,331.8L1304.7,333.2L1305.1,334.7L1305.5,336.1L1305.9,337.5L1306.3,339.0L1306.7,340.4L1307.1,341.9L1307.5,343.3L1307.9,344.8L1308.3,346.2L1308.7,347.7L1309.1,349.1L1309.4,350.6L1309.8,352.0L1310.2,353.5L1310.6,354.9L1310.9,356.4L1311.3,357.8L1311.7,359.3L1312.0,360.8L1312.4,362.2L1312.7,363.7L1313.1,365.1L1313.5,366.6L1313.8,368.0L1314.2,369.5L1314.5,371.0L1314.8,372.4L1315.2,373.9L1315.5,375.3L1315.9,376.8L1316.2,378.3L1316.6,379.7L1316.9,381.2L1317.2,382.6L1317.6,384.1L1317.9,385.6L1318.2,387.0L1318.5,388.5L1318.9,390.0L1319.2,391.4L1319.5,392.9L1319.8,394.4L1320.2,395.8L1320.5,397.3L1320.8,398.8L1321.1,400.2L1321.4,401.7L1321.7,403.2L1322.0,404.6L1322.4,406.1L1322.7,407.6L1323.0,409.0L1323.3,410.5L1323.6,412.0L1323.9,413.4L1324.2,414.9L1324.5,416.4L1324.8,417.8L1325.1,419.3L1325.4,420.8L1325.7,422.3L1326.0,423.7L1326.3,425.2L1326.5,426.7L1326.8,428.1L1327.1,429.6L1327.4,431.1L1327.7,432.6L1328.0,434.0L1328.3,435.5L1328.6,437.0L1328.8,438.4L1329.1,439.9L1329.4,441.4L1329.7,442.9L1330.0,444.3L1330.2,445.8L1330.5,447.3L1330.8,448.8L1331.1,450.2L1331.4,451.7L1331.6,453.2L1331.9,454.7L1332.2,456.1L1332.5,457.6L1332.7,459.1L1333.0,460.6L1333.3,462.0L1333.5,463.5L1333.8,465.0L1334.1,466.5L1334.3,467.9L1334.6,469.4L1334.8,470.9L1335.1,472.4L1335.4,473.8L1335.6,475.3L1335.9,476.8L1336.1,478.3L1336.4,479.8L1336.6,481.2L1336.9,482.7L1337.1,484.2L1337.4,485.7L1337.6,487.2L1337.8,488.6L1338.1,490.1L1338.3,491.6L1338.6,493.1L1338.8,494.6L1339.0,496.0L1339.3,497.5L1339.5,499.0L1339.7,500.5L1340.0,502.0L1340.2,503.4L1340.4,504.9L1340.7,506.4L1340.9,507.9L1341.1,509.4L1341.4,510.9L1341.6,512.3L1341.8,513.8L1342.1,515.3L1342.3,516.8L1342.5,518.3L1342.7,519.8L1343.0,521.2L1343.2,522.7L1343.4,524.2L1343.6,525.7L1343.9,527.2L1344.1,528.7L1344.3,530.1L1344.5,531.6L1344.8,533.1L1345.0,534.6L1345.2,536.1L1345.4,537.6L1345.7,539.0L1345.9,540.5L1346.1,542.0L1346.3,543.5L1346.6,545.0L1346.8,546.4L1347.0,547.9L1347.2,549.4L1347.5,550.9L1347.7,552.4L1347.9,553.9L1348.1,555.3L1348.4,556.8L1348.6,558.3L1348.8,559.8L1349.1,561.3L1349.3,562.8L1349.5,564.2L1349.7,565.7L1350.0,567.2L1350.2,568.7L1350.4,570.2L1350.7,571.6L1350.9,573.1L1351.2,574.6L1351.4,576.1L1351.6,577.6L1351.9,579.1L1352.1,580.5L1352.4,582.0L1352.6,583.5L1352.9,585.0L1353.1,586.4L1353.4,587.9L1353.6,589.4L1353.9,590.9L1354.1,592.4L1354.4,593.8L1354.6,595.3L1354.9,596.8L1355.1,598.3L1355.4,599.8L1355.6,601.2L1355.9,602.7L1356.1,604.2L1356.4,605.7L1356.6,607.2L1356.9,608.6L1357.1,610.1L1357.3,611.6L1357.6,613.1L1357.8,614.6L1358.0,616.0L1358.2,617.5L1358.5,619.0L1358.7,620.5L1358.9,622.0L1359.1,623.5L1359.3,624.9L1359.5,626.4L1359.7,627.9L1359.9,629.4L1360.1,630.9L1360.3,632.4L1360.4,633.9L1360.6,635.4L1360.8,636.9L1360.9,638.3L1361.1,639.8L1361.3,641.3L1361.4,642.8L1361.6,644.3L1361.7,645.8L1361.9,647.3L1362.0,648.8L1362.2,650.3L1362.3,651.8L1362.5,653.3L1362.6,654.8L1362.7,656.3L1362.9,657.7L1363.0,659.2L1363.2,660.7L1363.3,662.2L1363.4,663.7L1363.6,665.2L1363.7,666.7L1363.8,668.2L1364.0,669.7L1364.1,671.2L1364.3,672.7L1364.4,674.2L1364.5,675.7L1364.7,677.2L1364.8,678.7L1365.0,680.1L1365.1,681.6L1365.3,683.1L1365.4,684.6L1365.6,686.1L1365.8,687.6L1365.9,689.1L1366.1,690.6L1366.2,692.1L1366.4,693.6L1366.5,695.1L1366.7,696.6L1366.9,698.0L1367.0,699.5L1367.2,701.0L1367.3,702.5L1367.5,704.0L1367.6,705.5L1367.8,707.0L1368.0,708.5L1368.1,710.0L1368.3,711.5L1368.4,713.0L1368.6,714.5L1368.7,715.9L1368.9,717.4L1369.1,718.9L1369.2,720.4L1369.4,721.9L1369.6,723.4L1369.8,724.9L1369.9,726.4L1370.1,727.9L1370.3,729.4L1370.5,730.8L1370.7,732.3L1370.9,733.8L1371.1,735.3L1371.3,736.8L1371.5,738.3L1371.8,739.8L1372.0,741.2L1372.2,742.7L1372.5,744.2L1372.7,745.7L1373.0,747.1L1373.3,748.6L1373.6,750.1L1373.9,751.6L1374.2,753.0L1374.6,754.5L1374.9,755.9L1375.3,757.4L1375.7,758.8L1376.0,760.3L1376.4,761.7L1376.8,763.2L1377.2,764.6L1377.5,766.1L1377.9,767.5L1378.3,769.0L1378.6,770.5L1379.0,771.9L1379.4,773.4L1379.7,774.8L1380.1,776.3L1380.4,777.7L1380.8,779.2L1381.1,780.6L1381.5,782.1L1381.9,783.6L1382.2,785.0L1382.6,786.5L1382.9,787.9L1383.3,789.4L1383.6,790.9L1384.0,792.3L1384.3,793.8L1384.7,795.2L1385.1,796.7L1385.4,798.1L1385.8,799.6L1386.2,801.0L1386.5,802.5L1386.9,803.9L1387.3,805.4L1387.7,806.9L1388.0,808.3L1388.4,809.8L1388.8,811.2L1389.2,812.6L1389.6,814.1L1390.0,815.5L1390.4,817.0L1390.8,818.4L1391.1,819.9L1391.5,821.3L1391.9,822.8L1392.3,824.2L1392.7,825.7L1393.1,827.1L1393.5,828.6L1393.8,830.0L1394.2,831.5L1394.6,833.0L1394.9,834.4L1395.3,835.9L1395.6,837.3L1396.0,838.8L1396.3,840.2L1396.6,841.7L1397.0,843.2L1397.3,844.6L1397.6,846.1L1397.9,847.6L1398.2,849.0L1398.5,850.5L1398.6,851.0" fill="none" stroke="#f0f" stroke-width="8.8" stroke-linejoin="round" clip-path="url(#cm)"/>
<path d="M1396.0,800.0L1396.9,801.2L1397.9,802.3L1398.8,803.5L1399.7,804.7L1400.7,805.8L1401.6,807.0L1402.6,808.2L1403.5,809.4L1404.4,810.5L1405.3,811.7L1406.3,812.9L1407.2,814.1L1408.0,815.3L1408.9,816.5L1409.8,817.7L1410.6,819.0L1411.4,820.3L1412.1,821.5L1412.9,822.8L1413.6,824.1L1414.3,825.5L1415.0,826.8L1415.7,828.1L1416.4,829.4L1417.1,830.8L1417.8,832.1L1418.6,833.4L1419.3,834.6L1420.1,835.9L1420.9,837.2L1421.8,838.4L1422.6,839.6L1423.5,840.8L1424.5,841.9L1425.4,843.1L1426.4,844.2L1427.4,845.3L1428.5,846.4L1429.5,847.4L1430.6,848.5L1431.7,849.5L1432.8,850.5L1433.9,851.5L1435.0,852.5L1436.1,853.5L1437.2,854.5L1438.4,855.5L1439.5,856.6L1440.6,857.6L1441.7,858.6L1442.8,859.6L1443.9,860.6L1445.0,861.6L1446.2,862.6L1447.3,863.5L1448.4,864.5L1449.5,865.5L1450.7,866.5L1451.8,867.5L1452.9,868.5L1454.1,869.4L1455.2,870.4L1456.4,871.4L1457.5,872.3L1458.7,873.3L1459.9,874.2L1461.0,875.1L1462.2,876.1L1463.4,877.0L1464.6,877.9L1465.8,878.8L1467.0,879.7L1468.2,880.6L1469.4,881.4L1470.6,882.3L1471.9,883.1L1473.1,884.0L1474.4,884.8L1475.6,885.6L1476.9,886.4L1478.2,887.2L1479.4,888.0L1480.7,888.8L1482.0,889.5L1483.3,890.3L1484.6,891.0L1485.9,891.7L1487.3,892.4L1488.6,893.1L1489.9,893.8L1491.3,894.5L1492.6,895.1L1494.0,895.7L1495.3,896.4L1496.7,897.0L1498.1,897.6L1499.5,898.2L1500.8,898.7L1502.2,899.3L1503.6,899.9L1505.0,900.4L1506.4,901.0L1507.8,901.5L1509.2,902.1L1510.6,902.7L1512.0,903.2L1513.4,903.8L1514.7,904.3L1516.1,904.9L1517.5,905.5L1518.9,906.1L1520.3,906.7L1521.6,907.3L1523.0,907.9L1524.4,908.5L1525.7,909.1L1527.1,909.8L1528.4,910.4L1529.8,911.0L1531.2,911.7L1532.5,912.3L1533.9,913.0L1535.2,913.6L1536.6,914.3L1537.9,914.9L1539.3,915.5L1540.6,916.2L1542.0,916.8L1543.3,917.5L1544.7,918.1L1546.0,918.8L1547.4,919.4L1548.8,920.0L1550.1,920.7L1551.5,921.3L1552.8,921.9L1554.2,922.6L1555.6,923.2L1556.9,923.8L1558.3,924.4L1559.7,925.0L1561.0,925.6L1562.4,926.2L1563.8,926.8L1565.2,927.4L1566.5,928.0L1567.9,928.6L1569.3,929.2L1570.6,929.8L1572.0,930.4L1573.4,931.0L1574.8,931.6L1576.1,932.2L1577.5,932.8L1578.9,933.4L1580.3,934.0L1581.6,934.6L1583.0,935.2L1584.4,935.8L1585.8,936.4L1587.2,937.0L1588.5,937.6L1589.9,938.2L1591.3,938.8L1592.7,939.4L1594.0,940.0L1595.4,940.6L1596.8,941.1L1598.2,941.7L1599.5,942.3L1600.9,942.9L1602.3,943.5L1603.7,944.1L1605.1,944.7L1606.4,945.3L1607.8,945.9L1609.2,946.5L1610.6,947.0L1612.0,947.6L1613.3,948.2L1614.7,948.8L1616.1,949.4L1617.5,950.0L1618.9,950.6L1620.2,951.1L1621.6,951.7L1623.0,952.3L1624.4,952.9L1625.8,953.5L1627.1,954.0L1628.5,954.6L1629.9,955.2L1631.3,955.8L1632.7,956.4L1634.1,956.9L1635.4,957.5L1636.8,958.1L1638.2,958.7L1639.6,959.2L1641.0,959.8L1642.4,960.4L1643.8,960.9L1645.1,961.5L1646.5,962.1L1647.9,962.6L1649.3,963.2L1650.7,963.8L1652.1,964.3L1653.5,964.9L1654.9,965.4L1656.3,966.0L1657.6,966.6L1659.0,967.1L1660.4,967.7L1661.8,968.2L1663.2,968.8L1664.6,969.3L1666.0,969.9L1667.4,970.5L1668.8,971.0L1670.2,971.6L1671.6,972.1L1673.0,972.7L1674.4,973.2L1675.8,973.8L1677.1,974.3L1678.5,974.9L1679.9,975.4L1681.3,976.0L1682.7,976.5L1684.1,977.1L1685.5,977.6L1686.9,978.2L1688.3,978.7L1689.7,979.2L1691.1,979.8L1692.5,980.3L1693.9,980.9L1695.3,981.4L1696.7,981.9L1698.1,982.5L1699.5,983.0L1700.9,983.5L1702.3,984.1L1703.7,984.6L1705.1,985.1L1706.5,985.7L1707.9,986.2L1709.3,986.7L1710.7,987.2L1712.1,987.8L1713.5,988.3L1714.9,988.8L1716.3,989.3L1717.8,989.8L1719.2,990.4L1720.6,990.9L1722.0,991.4L1723.4,991.9L1724.8,992.4L1726.2,992.9L1727.6,993.4L1729.0,993.9L1730.4,994.4L1731.8,994.9L1733.3,995.4L1734.7,996.0L1736.1,996.5L1737.5,996.9L1738.9,997.4L1740.3,997.9L1741.7,998.4L1743.2,998.9L1744.6,999.4L1746.0,999.9L1747.4,1000.4L1748.8,1000.9L1750.2,1001.4L1751.7,1001.9L1753.1,1002.3L1754.5,1002.8L1755.9,1003.3L1757.3,1003.8L1758.8,1004.3L1760.2,1004.8L1761.6,1005.2L1763.0,1005.7L1764.4,1006.2L1765.9,1006.7L1767.3,1007.1L1768.7,1007.6L1770.1,1008.1L1771.6,1008.5L1773.0,1009.0L1774.4,1009.5L1775.8,1009.9L1777.3,1010.4L1778.7,1010.9L1780.1,1011.3L1781.5,1011.8L1783.0,1012.2L1784.4,1012.7L1785.8,1013.2L1787.2,1013.6L1788.7,1014.1L1790.1,1014.5L1791.5,1015.0L1793.0,1015.4L1794.4,1015.9L1795.8,1016.3L1797.3,1016.8L1798.7,1017.2L1800.1,1017.6L1801.6,1018.1L1803.0,1018.5L1804.4,1019.0L1805.9,1019.4L1807.3,1019.8L1808.7,1020.3L1810.2,1020.7L1811.6,1021.1L1813.0,1021.5L1814.5,1022.0L1815.9,1022.4L1817.3,1022.8L1818.8,1023.2L1820.2,1023.7L1821.7,1024.1L1823.1,1024.5L1824.5,1024.9L1826.0,1025.3L1827.4,1025.7L1828.9,1026.1L1830.3,1026.5L1831.8,1026.9L1833.2,1027.3L1834.6,1027.7L1836.1,1028.1L1837.5,1028.5L1839.0,1028.9L1840.4,1029.3L1841.9,1029.7L1843.3,1030.1L1844.8,1030.5L1846.2,1030.9L1847.7,1031.3L1849.1,1031.6L1850.6,1032.0L1852.0,1032.4L1853.5,1032.8L1854.9,1033.1L1856.4,1033.5L1857.8,1033.9L1859.3,1034.2L1860.7,1034.6L1862.2,1034.9L1863.7,1035.3L1865.1,1035.7L1866.6,1036.0L1868.0,1036.4L1869.5,1036.7L1870.9,1037.1L1872.4,1037.4L1873.9,1037.7L1875.3,1038.1L1876.8,1038.4L1878.2,1038.8L1879.7,1039.1L1881.2,1039.5L1882.6,1039.8L1884.1,1040.1L1885.5,1040.5L1887.0,1040.8" fill="none" stroke="#f0f" stroke-width="8.8" stroke-linejoin="round" stroke-linecap="butt"/>
<path d="M301.1,130.8L302.2,131.8L303.4,132.7L304.6,133.6L305.8,134.4L307.0,135.2L308.3,135.8L309.6,136.4L311.0,136.9L312.4,137.3L313.8,137.7L315.3,138.0L316.7,138.2L318.2,138.4L319.7,138.6L321.2,138.8L322.6,138.9L324.1,139.0L325.6,139.1L327.1,139.2L328.6,139.3L330.1,139.3L331.6,139.4L333.1,139.5L334.6,139.5L336.1,139.6L337.6,139.6L339.1,139.6L340.6,139.7L342.1,139.7L343.6,139.8L345.1,139.8L346.6,139.9L348.1,139.9L349.6,140.0L351.1,140.1L352.6,140.3L354.1,140.4L355.6,140.6L357.1,140.7L358.5,140.9L360.0,141.1L361.5,141.4L363.0,141.6L364.5,141.9L365.9,142.1L367.4,142.4L368.9,142.6L370.4,142.9L371.9,143.1L373.3,143.4L374.8,143.6L376.3,143.9L377.8,144.1L379.3,144.4L380.7,144.6L382.2,144.8L383.7,145.1L385.2,145.3L386.7,145.5L388.1,145.7L389.6,146.0L391.1,146.2L392.6,146.4L394.1,146.6L395.6,146.9L397.0,147.1L398.5,147.3L400.0,147.5L401.5,147.8L403.0,148.0L404.4,148.3L405.9,148.5L407.4,148.8L408.9,149.1L410.3,149.3L411.8,149.6L413.3,149.9L414.8,150.2L416.2,150.6L417.7,150.9L419.1,151.2L420.6,151.6L422.1,151.9L423.5,152.3L425.0,152.7L426.4,153.1L427.8,153.5L429.3,153.9L430.7,154.3L432.2,154.7L433.6,155.1L435.0,155.6L436.5,156.0L437.9,156.4L439.4,156.9L440.8,157.3L442.2,157.7L443.7,158.1L445.1,158.5L446.6,159.0L448.0,159.4L449.5,159.8L450.9,160.1L452.3,160.5L453.8,160.9L455.3,161.3L456.7,161.7L458.2,162.0L459.6,162.4L461.1,162.7L462.5,163.1L464.0,163.4L465.4,163.8L466.9,164.1L468.4,164.5L469.8,164.8L471.3,165.2L472.7,165.5L474.2,165.9L475.7,166.2L477.1,166.6L478.6,166.9L480.0,167.3L481.5,167.6L483.0,168.0L484.4,168.3L485.9,168.7L487.3,169.1L488.8,169.4L490.2,169.8L491.7,170.2L493.1,170.5L494.6,170.9L496.0,171.3L497.5,171.7L498.9,172.1L500.4,172.4L501.8,172.8L503.3,173.2L504.7,173.6L506.2,174.0L507.6,174.4L509.1,174.8L510.5,175.2L512.0,175.6L513.4,176.0L514.8,176.4L516.3,176.9L517.7,177.3L519.2,177.7L520.6,178.1L522.0,178.6L523.4,179.0L524.9,179.5L526.3,180.0L527.7,180.4L529.2,180.9L530.6,181.4L532.0,181.9L533.4,182.3L534.8,182.8L536.3,183.3L537.7,183.7L539.1,184.2L540.6,184.6L542.0,185.0L543.4,185.5L544.9,185.9L546.3,186.3L547.8,186.7L549.2,187.1L550.7,187.4L552.1,187.8L553.6,188.2L555.0,188.6L556.5,188.9L557.9,189.3L559.4,189.6L560.9,190.0L562.3,190.3L563.8,190.7L565.2,191.0L566.7,191.4L568.2,191.7L569.6,192.0L571.1,192.3L572.5,192.7L574.0,193.0L575.5,193.3L577.0,193.6L578.4,193.9L579.9,194.2L581.4,194.5L582.8,194.7L584.3,195.0L585.8,195.3L587.3,195.6L588.7,195.8L590.2,196.1L591.7,196.3L593.2,196.6L594.7,196.8L596.1,197.0L597.6,197.3L599.1,197.5L600.6,197.7L602.1,197.9L603.6,198.1L605.0,198.3L606.5,198.5L608.0,198.7L609.5,198.9L611.0,199.1L612.5,199.3L614.0,199.5L615.5,199.7L616.9,199.8L618.4,200.0L619.9,200.2L621.4,200.4L622.9,200.5L624.4,200.7L625.9,200.9L627.4,201.0L628.9,201.2L630.4,201.4L631.8,201.5L633.3,201.7L634.8,201.9L636.3,202.0L637.8,202.2L639.3,202.4L640.8,202.5L642.3,202.7L643.8,202.9L645.3,203.0L646.8,203.2L648.2,203.4L649.7,203.5L651.2,203.7L652.7,203.9L654.2,204.1L655.7,204.2L657.2,204.4L658.7,204.6L660.2,204.7L661.7,204.9L663.1,205.1L664.6,205.2L666.1,205.4L667.6,205.6L669.1,205.7L670.6,205.9L672.1,206.0L673.6,206.2L675.1,206.4L676.6,206.5L678.1,206.7L679.5,206.9L681.0,207.0L682.5,207.2L684.0,207.3L685.5,207.5L687.0,207.7L688.5,207.8L690.0,208.0L691.5,208.1L693.0,208.3L694.5,208.4L696.0,208.6L697.4,208.8L698.9,208.9L700.4,209.1L701.9,209.2L703.4,209.4L704.9,209.5L706.4,209.7L707.9,209.8L709.4,210.0L710.9,210.1L712.4,210.3L713.9,210.4L715.3,210.6L716.8,210.7L718.3,210.9L719.8,211.0L721.3,211.2L722.8,211.3L724.3,211.5L725.8,211.6L727.3,211.8L728.8,211.9L730.3,212.1L731.8,212.2L733.3,212.4L734.8,212.5L736.2,212.7L737.7,212.8L739.2,212.9L740.7,213.1L742.2,213.2L743.7,213.4L745.2,213.5L746.7,213.6L748.2,213.8L749.7,213.9L751.2,214.1L752.7,214.2L754.2,214.3L755.7,214.5L757.2,214.6L758.6,214.7L760.1,214.8L761.6,215.0L763.1,215.1L764.6,215.2L766.1,215.4L767.6,215.5L769.1,215.6L770.6,215.7L772.1,215.9L773.6,216.0L775.1,216.1L776.6,216.3L778.1,216.4L779.6,216.5L781.1,216.7L782.6,216.8L784.0,217.0L785.5,217.1L787.0,217.3L788.5,217.4L790.0,217.6L791.5,217.7L793.0,217.9L794.5,218.1L796.0,218.3L797.5,218.5L798.9,218.6L800.4,218.8L801.9,219.0L803.4,219.3L804.9,219.5L806.4,219.7L807.9,219.9L809.3,220.1L810.8,220.4L812.3,220.6L813.8,220.9L815.3,221.1L816.7,221.3L818.2,221.6L819.7,221.8L821.2,222.1L822.7,222.3L824.1,222.6L825.6,222.8L827.1,223.1L828.6,223.3L830.0,223.6L831.5,223.8L833.0,224.1L834.5,224.3L836.0,224.5L837.5,224.8L838.9,225.0L840.4,225.2L841.9,225.4L843.4,225.6L844.9,225.8L846.4,226.0L847.8,226.2L849.3,226.4L850.8,226.6L852.3,226.8L853.8,227.0L855.3,227.2L856.8,227.3L858.3,227.5L859.8,227.7L861.2,227.9L862.7,228.0L864.2,228.2L865.7,228.4L867.2,228.5L868.7,228.7L870.2,228.8L871.7,229.0L873.2,229.2L874.7,229.3L876.2,229.5L877.6,229.7L879.1,229.8L880.6,230.0L882.1,230.2L883.6,230.3L885.1,230.5L886.6,230.7L888.1,230.9L889.6,231.1L891.1,231.2L892.5,231.4L894.0,231.6L895.5,231.8L897.0,232.0L898.5,232.2L900.0,232.4L901.5,232.6L902.9,232.8L904.4,233.1L905.9,233.3L907.4,233.5L908.9,233.7L910.4,234.0L911.8,234.2L913.3,234.4L914.8,234.7L916.3,234.9L917.8,235.1L919.2,235.4L920.7,235.6L922.2,235.9L923.7,236.1L925.2,236.3L926.7,236.5L928.1,236.8L929.6,237.0L931.1,237.2L932.6,237.4L934.1,237.6L935.6,237.8L937.0,238.0L938.5,238.2L940.0,238.3L941.5,238.5L943.0,238.7L944.5,238.8L946.0,239.0L947.5,239.1L949.0,239.3L950.5,239.4L952.0,239.5L953.5,239.6L955.0,239.8L956.5,239.9L957.9,240.0L959.4,240.1L960.9,240.2L962.4,240.3L963.9,240.4L965.4,240.5L966.9,240.6L968.4,240.7L969.9,240.8L971.4,240.8L972.9,240.9L974.4,241.0L975.9,241.1L977.4,241.2L978.9,241.3L980.4,241.4L981.9,241.5L983.4,241.6L984.9,241.6L986.4,241.7L987.9,241.8L989.4,241.9L990.9,242.0L992.4,242.1L993.9,242.2L995.4,242.3L996.9,242.4L998.4,242.5L999.9,242.7L1001.4,242.8L1002.8,242.9L1004.3,243.0L1005.8,243.1L1007.3,243.2L1008.8,243.4L1010.3,243.5L1011.8,243.6L1013.3,243.7L1014.8,243.8L1016.3,244.0L1017.8,244.1L1019.3,244.2L1020.8,244.4L1022.3,244.5L1023.8,244.6L1025.3,244.7L1026.8,244.9L1028.3,245.0L1029.7,245.1L1031.2,245.3L1032.7,245.4L1034.2,245.5L1035.7,245.7L1037.2,245.8L1038.7,245.9L1040.2,246.0L1041.7,246.2L1043.2,246.3L1044.7,246.4L1046.2,246.6L1047.7,246.7L1049.2,246.8L1050.7,247.0L1052.2,247.1L1053.7,247.2L1055.2,247.3L1056.6,247.5L1058.1,247.6L1059.6,247.7L1061.1,247.9L1062.6,248.0L1064.1,248.1L1065.6,248.3L1067.1,248.4L1068.6,248.5L1070.1,248.7L1071.6,248.8L1073.1,248.9L1074.6,249.0L1076.1,249.2L1077.6,249.3L1079.1,249.4L1080.6,249.6L1082.0,249.7L1083.5,249.8L1085.0,250.0L1086.5,250.1L1088.0,250.2L1089.5,250.3L1091.0,250.5L1092.5,250.6L1094.0,250.7L1095.5,250.8L1097.0,251.0L1098.5,251.1L1100.0,251.2L1101.5,251.3L1103.0,251.4L1104.5,251.6L1106.0,251.7L1107.5,251.8L1109.0,251.9L1110.4,252.0L1111.9,252.1L1113.4,252.3L1114.9,252.4L1116.4,252.5L1117.9,252.6L1119.4,252.7L1120.9,252.8L1122.4,252.9L1123.9,253.1L1125.4,253.2L1126.9,253.3L1128.4,253.4L1129.9,253.5L1131.4,253.7L1132.9,253.8L1134.4,253.9L1135.9,254.0L1137.4,254.1L1138.9,254.3L1140.3,254.4L1141.8,254.5L1143.3,254.7L1144.8,254.8L1146.3,254.9L1147.8,255.1L1149.3,255.2L1150.8,255.3L1152.3,255.5L1153.8,255.6L1155.3,255.7L1156.8,255.9L1158.3,256.0L1159.8,256.1L1161.3,256.3L1162.8,256.4L1164.3,256.5L1165.7,256.7L1167.2,256.8L1168.7,257.0L1170.2,257.1L1171.7,257.3L1173.2,257.4L1174.7,257.6L1176.2,257.7L1177.7,257.9L1179.2,258.0L1180.7,258.2L1182.2,258.4L1183.6,258.6L1185.1,258.7L1186.6,258.9L1188.1,259.1L1189.6,259.3L1191.1,259.5L1192.6,259.7L1194.1,259.9L1195.5,260.1L1197.0,260.4L1198.5,260.6L1200.0,260.8L1201.5,261.1L1202.9,261.4L1204.4,261.6L1205.9,261.9L1207.4,262.2L1208.8,262.5L1210.3,262.8L1211.8,263.1L1213.2,263.4L1214.7,263.8L1216.1,264.1L1217.6,264.4L1219.1,264.8L1220.5,265.2L1222.0,265.5L1223.4,265.9L1224.9,266.3L1226.3,266.7L1227.7,267.1L1229.2,267.6L1230.6,268.0L1232.0,268.5L1233.5,268.9L1234.9,269.4L1236.3,269.9L1237.7,270.5L1239.1,271.0L1240.5,271.6L1241.8,272.1L1243.2,272.8L1244.6,273.4L1245.9,274.0L1247.2,274.7L1248.6,275.4L1249.9,276.2L1251.1,276.9L1252.4,277.7L1253.6,278.6L1254.9,279.4L1256.1,280.3L1257.3,281.2L1258.4,282.1L1259.6,283.1L1260.7,284.1L1261.8,285.1L1263.0,286.1L1264.1,287.1L1265.1,288.1L1266.2,289.2L1267.3,290.2L1268.3,291.3L1269.4,292.3L1270.4,293.4L1271.5,294.5L1272.5,295.6L1273.5,296.7L1274.6,297.8L1275.5,298.9L1276.5,300.0L1277.5,301.2L1278.4,302.3L1279.3,303.5L1280.2,304.7L1281.0,306.0L1281.9,307.2L1282.7,308.5L1283.5,309.8L1284.2,311.0L1285.0,312.3L1285.7,313.6L1286.4,314.9L1287.1,316.3L1287.8,317.6L1288.5,318.9L1289.2,320.3L1289.8,321.6L1290.5,323.0L1291.1,324.3L1291.7,325.7L1292.3,327.1L1292.9,328.5L1293.5,329.8L1294.1,331.2L1294.6,332.6L1295.2,334.0L1295.7,335.4L1296.3,336.8L1296.8,338.2L1297.3,339.6L1297.8,341.0L1298.3,342.5L1298.8,343.9L1299.3,345.3L1299.7,346.7L1300.2,348.1L1300.7,349.6L1301.1,351.0L1301.6,352.4L1302.0,353.9L1302.4,355.3L1302.9,356.7L1303.3,358.2L1303.7,359.6L1304.2,361.0L1304.6,362.5L1305.0,363.9L1305.4,365.4L1305.8,366.8L1306.2,368.3L1306.6,369.7L1307.0,371.1L1307.4,372.6L1307.8,374.0L1308.2,375.5L1308.5,376.9L1308.9,378.4L1309.3,379.8L1309.7,381.3L1310.0,382.8L1310.4,384.2L1310.7,385.7L1311.1,387.1L1311.4,388.6L1311.8,390.0L1312.1,391.5L1312.5,393.0L1312.8,394.4L1313.2,395.9L1313.5,397.3L1313.8,398.8L1314.2,400.3L1314.5,401.7L1314.8,403.2L1315.1,404.7L1315.5,406.1L1315.8,407.6L1316.1,409.1L1316.4,410.5L1316.7,412.0L1317.0,413.5L1317.3,414.9L1317.7,416.4L1318.0,417.9L1318.3,419.3L1318.6,420.8L1318.9,422.3L1319.2,423.7L1319.5,425.2L1319.8,426.7L1320.1,428.1L1320.4,429.6L1320.6,431.1L1320.9,432.6L1321.2,434.0L1321.5,435.5L1321.8,437.0L1322.1,438.4L1322.4,439.9L1322.7,441.4L1323.0,442.9L1323.3,444.3L1323.5,445.8L1323.8,447.3L1324.1,448.8L1324.4,450.2L1324.7,451.7L1325.0,453.2L1325.3,454.6L1325.5,456.1L1325.8,457.6L1326.1,459.1L1326.4,460.5L1326.7,462.0L1327.0,463.5L1327.2,465.0L1327.5,466.4L1327.8,467.9L1328.0,469.4L1328.3,470.9L1328.6,472.3L1328.8,473.8L1329.1,475.3L1329.4,476.8L1329.6,478.2L1329.9,479.7L1330.1,481.2L1330.4,482.7L1330.6,484.1L1330.9,485.6L1331.1,487.1L1331.4,488.6L1331.6,490.1L1331.9,491.5L1332.1,493.0L1332.3,494.5L1332.6,496.0L1332.8,497.5L1333.1,499.0L1333.3,500.4L1333.5,501.9L1333.8,503.4L1334.0,504.9L1334.2,506.4L1334.5,507.8L1334.7,509.3L1334.9,510.8L1335.1,512.3L1335.4,513.8L1335.6,515.3L1335.8,516.7L1336.1,518.2L1336.3,519.7L1336.5,521.2L1336.7,522.7L1337.0,524.1L1337.2,525.6L1337.4,527.1L1337.6,528.6L1337.9,530.1L1338.1,531.6L1338.3,533.0L1338.5,534.5L1338.8,536.0L1339.0,537.5L1339.2,539.0L1339.5,540.5L1339.7,541.9L1339.9,543.4L1340.2,544.9L1340.4,546.4L1340.6,547.9L1340.9,549.3L1341.1,550.8L1341.3,552.3L1341.6,553.8L1341.8,555.3L1342.1,556.7L1342.3,558.2L1342.6,559.7L1342.8,561.2L1343.1,562.7L1343.3,564.1L1343.6,565.6L1343.8,567.1L1344.1,568.6L1344.3,570.1L1344.6,571.5L1344.9,573.0L1345.1,574.5L1345.4,576.0L1345.7,577.4L1345.9,578.9L1346.2,580.4L1346.5,581.9L1346.8,583.3L1347.1,584.8L1347.4,586.3L1347.6,587.7L1347.9,589.2L1348.2,590.7L1348.5,592.2L1348.8,593.6L1349.1,595.1L1349.4,596.6L1349.7,598.0L1350.0,599.5L1350.3,601.0L1350.6,602.4L1350.9,603.9L1351.2,605.4L1351.5,606.9L1351.8,608.3L1352.1,609.8L1352.4,611.3L1352.7,612.7L1353.0,614.2L1353.3,615.7L1353.6,617.1L1353.9,618.6L1354.1,620.1L1354.4,621.6L1354.7,623.0L1355.0,624.5L1355.2,626.0L1355.5,627.5L1355.8,628.9L1356.0,630.4L1356.3,631.9L1356.6,633.4L1356.8,634.9L1357.0,636.3L1357.3,637.8L1357.5,639.3L1357.8,640.8L1358.0,642.3L1358.2,643.7L1358.5,645.2L1358.7,646.7L1358.9,648.2L1359.1,649.7L1359.4,651.1L1359.6,652.6L1359.8,654.1L1360.0,655.6L1360.3,657.1L1360.5,658.6L1360.7,660.1L1360.9,661.5L1361.1,663.0L1361.4,664.5L1361.6,666.0L1361.8,667.5L1362.0,668.9L1362.3,670.4L1362.5,671.9L1362.7,673.4L1363.0,674.9L1363.2,676.4L1363.4,677.8L1363.7,679.3L1363.9,680.8L1364.2,682.3L1364.4,683.8L1364.7,685.2L1364.9,686.7L1365.2,688.2L1365.5,689.7L1365.7,691.1L1366.0,692.6L1366.3,694.1L1366.5,695.6L1366.8,697.0L1367.1,698.5L1367.3,700.0L1367.6,701.5L1367.9,702.9L1368.2,704.4L1368.5,705.9L1368.7,707.4L1369.0,708.8L1369.3,710.3L1369.6,711.8L1369.9,713.3L1370.2,714.7L1370.5,716.2L1370.8,717.7L1371.1,719.1L1371.4,720.6L1371.7,722.1L1372.0,723.5L1372.3,725.0L1372.7,726.5L1373.0,727.9L1373.3,729.4L1373.7,730.8L1374.0,732.3L1374.4,733.8L1374.7,735.2L1375.1,736.7L1375.5,738.1L1375.9,739.6L1376.3,741.0L1376.7,742.5L1377.1,743.9L1377.5,745.3L1378.0,746.8L1378.4,748.2L1378.9,749.6L1379.4,751.0L1379.9,752.4L1380.5,753.8L1381.0,755.2L1381.5,756.6L1382.1,758.0L1382.6,759.4L1383.1,760.8L1383.6,762.2L1384.1,763.7L1384.5,765.1L1385.0,766.5L1385.4,767.9L1385.9,769.4L1386.3,770.8L1386.7,772.3L1387.1,773.7L1387.5,775.2L1387.9,776.6L1388.3,778.1L1388.6,779.5L1389.0,781.0L1389.4,782.4L1389.8,783.9L1390.2,785.3L1390.6,786.8L1390.9,788.2L1391.3,789.6L1391.7,791.1L1392.2,792.5L1392.6,794.0L1393.0,795.4L1393.5,796.8L1393.9,798.3L1394.4,799.7L1394.8,801.1L1395.3,802.5L1395.8,804.0L1396.3,805.4L1396.8,806.8L1397.3,808.2L1397.8,809.6L1398.3,811.0L1398.8,812.4L1399.4,813.8L1399.9,815.2L1400.5,816.6L1401.0,818.0L1401.6,819.4L1402.2,820.8L1402.7,822.2L1403.3,823.5L1403.9,824.9L1404.5,826.3L1405.1,827.7L1405.8,829.0L1406.4,830.4L1407.1,831.7L1407.7,833.1L1408.4,834.4L1409.1,835.7L1409.8,837.1L1410.5,838.4L1411.3,839.7L1412.0,841.0L1412.8,842.2L1413.6,843.5L1414.4,844.8L1415.3,846.0L1416.1,847.2L1417.0,848.5L1417.8,849.7L1418.7,850.9L1419.6,852.1L1420.5,853.3L1421.4,854.5L1422.3,855.7L1423.3,856.9L1424.2,858.0L1425.1,859.2L1426.1,860.3L1427.1,861.5L1428.1,862.6L1429.1,863.7L1430.1,864.8L1431.1,865.9L1432.2,867.0L1433.2,868.0L1434.3,869.1L1435.4,870.1L1436.4,871.2L1437.5,872.2L1438.6,873.2L1439.7,874.2L1440.8,875.2L1442.0,876.3L1443.1,877.3L1444.2,878.3L1445.3,879.3L1446.4,880.3L1447.5,881.3L1448.6,882.3L1449.7,883.3L1450.9,884.3L1452.0,885.3L1453.1,886.3L1454.2,887.3L1455.3,888.3L1456.5,889.3L1457.6,890.3L1458.7,891.3L1459.8,892.3L1461.0,893.3L1462.1,894.2L1463.2,895.2L1464.4,896.2L1465.5,897.2L1466.6,898.1L1467.8,899.1L1469.0,900.1L1470.1,901.0L1471.3,901.9L1472.4,902.9L1473.6,903.8L1474.8,904.7L1476.0,905.7L1477.2,906.6L1478.4,907.5L1479.6,908.4L1480.8,909.2L1482.0,910.1L1483.2,911.0L1484.5,911.8L1485.7,912.6L1487.0,913.5L1488.3,914.3L1489.5,915.0L1490.8,915.8L1492.1,916.5L1493.4,917.3L1494.8,918.0L1496.1,918.7L1497.4,919.4L1498.7,920.0L1500.1,920.7L1501.4,921.4L1502.8,922.0L1504.2,922.6L1505.5,923.3L1506.9,923.9L1508.3,924.5L1509.6,925.1L1511.0,925.7L1512.4,926.3L1513.8,926.9L1515.1,927.4L1516.5,928.0L1517.9,928.6L1519.3,929.2L1520.7,929.7L1522.1,930.3L1523.5,930.8L1524.9,931.4L1526.3,931.9L1527.7,932.5L1529.1,933.0L1530.5,933.5L1531.9,934.1L1533.3,934.6L1534.7,935.1L1536.1,935.6L1537.5,936.1L1538.9,936.6L1540.3,937.1L1541.7,937.6L1543.2,938.2L1544.6,938.7L1546.0,939.2L1547.4,939.7L1548.8,940.2L1550.2,940.8L1551.6,941.3L1553.0,941.9L1554.4,942.4L1555.8,943.0L1557.2,943.5L1558.5,944.1L1559.9,944.7L1561.3,945.2L1562.7,945.8L1564.1,946.4L1565.5,947.0L1566.9,947.5L1568.2,948.1L1569.6,948.7L1571.0,949.3L1572.4,949.9L1573.8,950.5L1575.1,951.0L1576.5,951.6L1577.9,952.2L1579.3,952.8L1580.7,953.4L1582.1,953.9L1583.5,954.5L1584.8,955.1L1586.2,955.7L1587.6,956.2L1589.0,956.8L1590.4,957.4L1591.8,957.9L1593.2,958.5L1594.6,959.1L1595.9,959.6L1597.3,960.2L1598.7,960.7L1600.1,961.3L1601.5,961.9L1602.9,962.4L1604.3,963.0L1605.7,963.6L1607.1,964.1L1608.5,964.7L1609.9,965.2L1611.2,965.8L1612.6,966.4L1614.0,966.9L1615.4,967.5L1616.8,968.0L1618.2,968.6L1619.6,969.1L1621.0,969.7L1622.4,970.3L1623.8,970.8L1625.2,971.4L1626.6,971.9L1628.0,972.5L1629.4,973.0L1630.7,973.6L1632.1,974.1L1633.5,974.7L1634.9,975.2L1636.3,975.8L1637.7,976.3L1639.1,976.9L1640.5,977.4L1641.9,977.9L1643.3,978.5L1644.7,979.0L1646.1,979.6L1647.5,980.1L1648.9,980.6L1650.3,981.2L1651.7,981.7L1653.1,982.2L1654.5,982.8L1655.9,983.3L1657.3,983.8L1658.7,984.4L1660.1,984.9L1661.5,985.4L1662.9,986.0L1664.3,986.5L1665.8,987.0L1667.2,987.5L1668.6,988.1L1670.0,988.6L1671.4,989.1L1672.8,989.6L1674.2,990.1L1675.6,990.7L1677.0,991.2L1678.4,991.7L1679.8,992.2L1681.2,992.7L1682.6,993.2L1684.0,993.8L1685.5,994.3L1686.9,994.8L1688.3,995.3L1689.7,995.8L1691.1,996.3L1692.5,996.8L1693.9,997.3L1695.3,997.8L1696.7,998.3L1698.2,998.8L1699.6,999.3L1701.0,999.8L1702.4,1000.3L1703.8,1000.9L1705.2,1001.4L1706.6,1001.9L1708.0,1002.4L1709.5,1002.9L1710.9,1003.4L1712.3,1003.9L1713.7,1004.4L1715.1,1004.9L1716.5,1005.3L1718.0,1005.8L1719.4,1006.3L1720.8,1006.8L1722.2,1007.3L1723.6,1007.8L1725.0,1008.3L1726.5,1008.8L1727.9,1009.3L1729.3,1009.7L1730.7,1010.2L1732.1,1010.7L1733.6,1011.2L1735.0,1011.7L1736.4,1012.1L1737.8,1012.6L1739.3,1013.1L1740.7,1013.5L1742.1,1014.0L1743.5,1014.5L1745.0,1014.9L1746.4,1015.4L1747.8,1015.9L1749.2,1016.3L1750.7,1016.8L1752.1,1017.3L1753.5,1017.7L1754.9,1018.2L1756.4,1018.6L1757.8,1019.1L1759.2,1019.5L1760.7,1020.0L1762.1,1020.5L1763.5,1020.9L1764.9,1021.4L1766.4,1021.8L1767.8,1022.3L1769.2,1022.7L1770.7,1023.2L1772.1,1023.6L1773.5,1024.1L1775.0,1024.5L1776.4,1024.9L1777.8,1025.4L1779.3,1025.8L1780.7,1026.3L1782.1,1026.7L1783.6,1027.1L1785.0,1027.6L1786.4,1028.0L1787.9,1028.4L1789.3,1028.9L1790.7,1029.3L1792.2,1029.7L1793.6,1030.2L1795.1,1030.6L1796.5,1031.0L1797.9,1031.4L1799.4,1031.9L1800.8,1032.3L1802.3,1032.7L1803.7,1033.1L1805.1,1033.5L1806.6,1033.9L1808.0,1034.3L1809.5,1034.7L1810.9,1035.2L1812.4,1035.6L1813.8,1036.0L1815.2,1036.4L1816.7,1036.8L1818.1,1037.2L1819.6,1037.6L1821.0,1038.0L1822.5,1038.4L1823.9,1038.8L1825.4,1039.2L1826.8,1039.5L1828.3,1039.9L1829.7,1040.3L1831.2,1040.7L1832.6,1041.1L1834.1,1041.5L1835.5,1041.9L1837.0,1042.2L1838.4,1042.6L1839.9,1043.0L1841.3,1043.4L1842.8,1043.7L1844.2,1044.1L1845.7,1044.5L1847.1,1044.9L1848.6,1045.2L1850.0,1045.6L1851.5,1046.0L1852.9,1046.3L1854.4,1046.7L1855.9,1047.0L1857.3,1047.4L1858.8,1047.8L1860.2,1048.1L1861.7,1048.5L1863.1,1048.8L1864.6,1049.2L1866.1,1049.5L1867.5,1049.9L1869.0,1050.2L1870.4,1050.6L1871.9,1050.9L1873.4,1051.2L1874.8,1051.6L1876.3,1051.9L1877.7,1052.3L1879.2,1052.6L1880.7,1052.9L1882.1,1053.3L1883.6,1053.6L1885.1,1053.9L1886.5,1054.3L1887.0,1054.4" fill="none" stroke="#008000" stroke-width="8.8" stroke-linejoin="round" stroke-linecap="butt"/>
<path d="M1441.5,882 L1441.5,901 L1449.8,901 L1456,893 Z" fill="#008000"/>
<path d="M300.3,30.9 V1212.2" stroke="#000" stroke-width="8.6"/>
<path d="M1890.5,30.9 V1212.2" stroke="#000" stroke-width="8.6"/>
<path d="M296.0,35.9 H1894.8" stroke="#000" stroke-width="9.4"/>
<path d="M296.0,1207.9 H1894.8" stroke="#000" stroke-width="8.6"/>
<path d="M273.5,1208.1 H300.3" stroke="#000" stroke-width="9"/>
<path d="M284.5,1118.0 H300.3" stroke="#000" stroke-width="9"/>
<path d="M273.5,1028.0 H300.3" stroke="#000" stroke-width="9"/>
<path d="M284.5,937.9 H300.3" stroke="#000" stroke-width="9"/>
<path d="M273.5,847.8 H300.3" stroke="#000" stroke-width="9"/>
<path d="M284.5,757.7 H300.3" stroke="#000" stroke-width="9"/>
<path d="M273.5,667.6 H300.3" stroke="#000" stroke-width="9"/>
<path d="M284.5,577.5 H300.3" stroke="#000" stroke-width="9"/>
<path d="M273.5,487.4 H300.3" stroke="#000" stroke-width="9"/>
<path d="M284.5,397.4 H300.3" stroke="#000" stroke-width="9"/>
<path d="M273.5,307.3 H300.3" stroke="#000" stroke-width="9"/>
<path d="M284.5,217.2 H300.3" stroke="#000" stroke-width="9"/>
<path d="M273.5,127.1 H300.3" stroke="#000" stroke-width="9"/>
<path d="M284.5,35.9 H300.3" stroke="#000" stroke-width="9.4"/>
<path d="M437.4,1207.9 V1223.5" stroke="#000" stroke-width="8.4"/>
<path d="M631.0,1207.9 V1235.5" stroke="#000" stroke-width="8.4"/>
<path d="M824.7,1207.9 V1223.5" stroke="#000" stroke-width="8.4"/>
<path d="M1018.4,1207.9 V1235.5" stroke="#000" stroke-width="8.4"/>
<path d="M1212.0,1207.9 V1223.5" stroke="#000" stroke-width="8.4"/>
<path d="M1405.7,1207.9 V1235.5" stroke="#000" stroke-width="8.4"/>
<path d="M1599.4,1207.9 V1223.5" stroke="#000" stroke-width="8.4"/>
<path d="M1793.1,1207.9 V1235.5" stroke="#000" stroke-width="8.4"/>
<path d="M1559.7,474.7 V1028" stroke="#000" stroke-width="8.2" stroke-dasharray="50.7 20.6 12.8 21.1" fill="none"/>
<path d="M1544.8,1026.2 L1574.4,1026.2 L1573.5,1037 L1563.5,1077.6 L1558,1077.6 L1546,1037 Z" fill="#000"/>
<text x="261.5" y="1232.4" text-anchor="end" class="tk">40</text>
<text x="261.5" y="1052.2" text-anchor="end" class="tk">50</text>
<text x="261.5" y="872.1" text-anchor="end" class="tk">60</text>
<text x="261.5" y="691.9" text-anchor="end" class="tk">70</text>
<text x="261.5" y="511.7" text-anchor="end" class="tk">80</text>
<text x="261.5" y="331.6" text-anchor="end" class="tk">90</text>
<text x="261.5" y="151.4" text-anchor="end" class="tk">100</text>
<text x="630.2" y="1311" text-anchor="middle" class="tk">200</text>
<text x="1017.6" y="1311" text-anchor="middle" class="tk">400</text>
<text x="1404.9" y="1311" text-anchor="middle" class="tk">600</text>
<text x="1792.3" y="1311" text-anchor="middle" class="tk">800</text>
<g transform="translate(0,1409.8) scale(1,1.04)"><text x="724.3" y="0" class="ttl" letter-spacing="0.55">Temperature</text><text x="1209" y="0" class="ttn">(</text><text x="1265.4" y="0" class="ttl">C</text><text x="1324.4" y="0" class="ttn">)</text></g>
<text x="1232.3" y="1411.9" class="ttn" style="font-size:94px">°</text>
<g transform="translate(106.4,841.9) rotate(-90) scale(1,1.04)"><text x="0" y="0" class="ttl" letter-spacing="0.7">Weight</text><text x="267.2" y="0" class="ttn">(</text><text transform="translate(307.2,0) scale(0.775,1)" x="0" y="0" class="ttn">%</text><text x="366.2" y="0" class="ttn">)</text></g>
<text transform="translate(1583,498.8) scale(1,1.04)" x="0" y="0" class="lg">15MPa</text>
<text transform="translate(1583,582.8) scale(1,1.04)" x="0" y="0" class="lg">12MPa</text>
<text transform="translate(1583,666.7) scale(1,1.04)" x="0" y="0" class="lg">20MPa</text>
<text transform="translate(1583,750.6) scale(1,1.04)" x="0" y="0" class="lg">10MPa</text>
<text transform="translate(1583,834.5) scale(1,1.04)" x="0" y="0" class="lg" letter-spacing="0.6">untreated</text>
</svg>
</body></html>
